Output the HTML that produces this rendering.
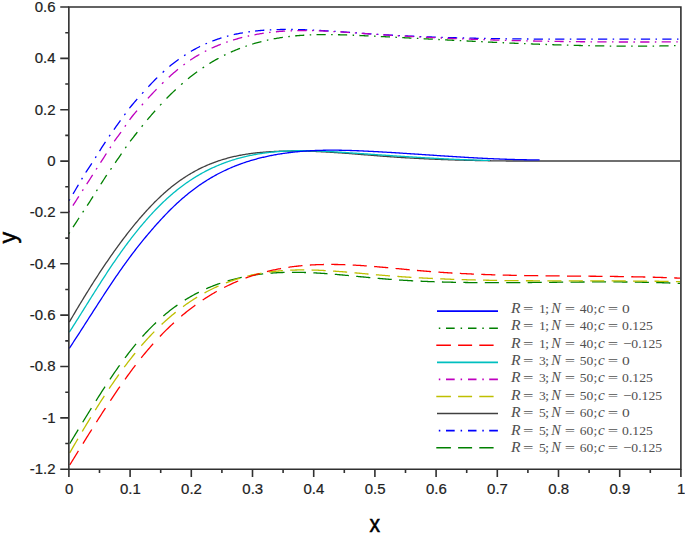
<!DOCTYPE html>
<html><head><meta charset="utf-8"><style>
html,body{margin:0;padding:0;background:#fff;}
body{width:685px;height:534px;overflow:hidden;}
svg{display:block;}
.tk{font-family:"Liberation Sans",sans-serif;font-size:14px;fill:#222;stroke:#222;stroke-width:0.2px;}
.lg{font-family:"Liberation Serif",serif;font-size:13.5px;fill:#505050;}
.it{font-style:italic;}
.ttl{font-family:"Liberation Sans",sans-serif;fill:#000;stroke:#000;stroke-width:0.5px;}
</style></head><body>
<svg width="685" height="534" viewBox="0 0 685 534">
<rect width="685" height="534" fill="#fff"/>
<g>
<g fill="none" stroke-width="1.3" stroke-linecap="butt" stroke-linejoin="round">
<path d="M68.90,200.75 L69.50,199.81 L69.84,199.25 M73.04,193.95 L73.50,193.18 L74.50,191.47 L75.50,189.75 L76.50,188.03 L77.50,186.30 L78.39,184.75 M81.57,179.32 L82.46,177.82 M85.73,172.52 L86.50,171.33 L87.50,169.80 L88.50,168.29 L89.50,166.79 L90.50,165.29 L91.50,163.78 L91.80,163.32 M95.28,157.89 L95.50,157.54 L96.22,156.39 M99.52,151.09 L100.50,149.54 L101.50,147.97 L102.50,146.42 L103.50,144.88 L104.50,143.36 L105.47,141.89 M109.15,136.46 L109.50,135.95 L110.18,134.96 M113.89,129.66 L114.50,128.79 L115.50,127.38 L116.50,125.98 L117.50,124.58 L118.50,123.18 L119.50,121.79 L120.45,120.46 M124.36,115.03 L124.50,114.85 L125.46,113.53 M129.48,108.23 L129.50,108.21 L130.50,106.95 L131.50,105.72 L132.50,104.52 L133.50,103.33 L134.50,102.17 L135.50,101.01 L136.50,99.87 L137.24,99.03 M142.06,93.60 L142.50,93.12 L143.42,92.10 M148.29,86.80 L148.50,86.58 L149.50,85.51 L150.50,84.46 L151.50,83.41 L152.50,82.37 L153.50,81.34 L154.50,80.33 L155.50,79.32 L156.50,78.32 L157.21,77.62 M162.64,72.44 L163.50,71.65 L164.14,71.07 M169.44,66.49 L169.50,66.44 L170.50,65.62 L171.50,64.80 L172.50,64.01 L173.50,63.22 L174.50,62.44 L175.50,61.68 L176.50,60.93 L177.50,60.19 L178.50,59.47 L178.64,59.37 M184.07,55.63 L184.50,55.35 L185.50,54.70 L185.57,54.65 M190.87,51.41 L191.50,51.04 L192.50,50.47 L193.50,49.91 L194.50,49.35 L195.50,48.81 L196.50,48.28 L197.50,47.75 L198.50,47.24 L199.50,46.74 L200.07,46.45 M205.50,43.91 L206.50,43.47 L207.00,43.26 M212.30,41.10 L212.50,41.02 L213.50,40.64 L214.50,40.27 L215.50,39.91 L216.50,39.55 L217.50,39.21 L218.50,38.87 L219.50,38.54 L220.50,38.21 L221.50,37.90 L221.50,37.90 M226.93,36.31 L227.50,36.16 L228.43,35.91 M233.73,34.61 L234.50,34.44 L235.50,34.22 L236.50,34.00 L237.50,33.79 L238.50,33.59 L239.50,33.40 L240.50,33.21 L241.50,33.02 L242.50,32.84 L242.93,32.77 M248.36,31.91 L248.50,31.89 L249.50,31.74 L249.86,31.69 M255.16,31.04 L255.50,31.00 L256.50,30.90 L257.50,30.79 L258.50,30.69 L259.50,30.60 L260.50,30.51 L261.50,30.43 L262.50,30.35 L263.50,30.27 L264.36,30.21 M269.79,29.88 L270.50,29.84 L271.29,29.80 M276.59,29.61 L277.50,29.58 L278.50,29.56 L279.50,29.54 L280.50,29.52 L281.50,29.51 L282.50,29.49 L283.50,29.48 L284.50,29.47 L285.50,29.47 L285.79,29.47 M291.22,29.48 L291.50,29.48 L292.50,29.49 L292.72,29.50 M298.02,29.59 L298.50,29.60 L299.50,29.62 L300.50,29.65 L301.50,29.68 L302.50,29.71 L303.50,29.74 L304.50,29.77 L305.50,29.80 L306.50,29.84 L307.22,29.87 M312.65,30.10 L313.50,30.14 L314.15,30.17 M319.45,30.44 L319.50,30.44 L320.50,30.50 L321.50,30.56 L322.50,30.61 L323.50,30.67 L324.50,30.73 L325.50,30.79 L326.50,30.85 L327.50,30.92 L328.50,30.98 L328.65,30.99 M334.08,31.34 L334.50,31.37 L335.50,31.44 L335.58,31.45 M340.88,31.81 L341.50,31.86 L342.50,31.93 L343.50,32.00 L344.50,32.07 L345.50,32.14 L346.50,32.21 L347.50,32.29 L348.50,32.36 L349.50,32.43 L350.08,32.47 M355.51,32.87 L356.50,32.94 L357.01,32.97 M362.31,33.35 L362.50,33.36 L363.50,33.43 L364.50,33.50 L365.50,33.57 L366.50,33.64 L367.50,33.71 L368.50,33.77 L369.50,33.84 L370.50,33.90 L371.50,33.97 L371.51,33.97 M376.94,34.32 L377.50,34.35 L378.44,34.41 M383.74,34.73 L384.50,34.77 L385.50,34.83 L386.50,34.89 L387.50,34.95 L388.50,35.00 L389.50,35.06 L390.50,35.12 L391.50,35.17 L392.50,35.23 L392.94,35.25 M398.37,35.54 L398.50,35.54 L399.50,35.59 L399.87,35.61 M405.17,35.88 L405.50,35.89 L406.50,35.94 L407.50,35.99 L408.50,36.04 L409.50,36.08 L410.50,36.13 L411.50,36.17 L412.50,36.22 L413.50,36.26 L414.37,36.30 M419.80,36.54 L420.50,36.57 L421.30,36.60 M426.60,36.81 L427.50,36.85 L428.50,36.89 L429.50,36.92 L430.50,36.96 L431.50,37.00 L432.50,37.03 L433.50,37.07 L434.50,37.11 L435.50,37.14 L435.80,37.15 M441.23,37.34 L441.50,37.35 L442.50,37.38 L442.73,37.39 M448.03,37.56 L448.50,37.57 L449.50,37.60 L450.50,37.63 L451.50,37.66 L452.50,37.69 L453.50,37.72 L454.50,37.75 L455.50,37.77 L456.50,37.80 L457.23,37.82 M462.66,37.96 L463.50,37.98 L464.16,38.00 M469.46,38.13 L469.50,38.13 L470.50,38.15 L471.50,38.17 L472.50,38.20 L473.50,38.22 L474.50,38.24 L475.50,38.26 L476.50,38.28 L477.50,38.30 L478.50,38.32 L478.66,38.33 M484.09,38.43 L484.50,38.44 L485.50,38.46 L485.59,38.46 M490.89,38.55 L491.50,38.56 L492.50,38.58 L493.50,38.59 L494.50,38.61 L495.50,38.62 L496.50,38.64 L497.50,38.65 L498.50,38.67 L499.50,38.68 L500.09,38.69 M505.52,38.76 L506.50,38.78 L507.02,38.78 M512.32,38.85 L512.50,38.85 L513.50,38.86 L514.50,38.87 L515.50,38.88 L516.50,38.89 L517.50,38.90 L518.50,38.91 L519.50,38.92 L520.50,38.93 L521.50,38.94 L521.52,38.94 M526.95,38.98 L527.50,38.99 L528.45,38.99 M533.75,39.03 L534.50,39.04 L535.50,39.04 L536.50,39.05 L537.50,39.05 L538.50,39.06 L539.50,39.07 L540.50,39.07 L541.50,39.08 L542.50,39.08 L542.95,39.08 M548.38,39.11 L548.50,39.11 L549.50,39.11 L549.88,39.11 M555.18,39.13 L555.50,39.13 L556.50,39.13 L557.50,39.14 L558.50,39.14 L559.50,39.14 L560.50,39.14 L561.50,39.15 L562.50,39.15 L563.50,39.15 L564.38,39.15 M569.81,39.16 L570.50,39.16 L571.31,39.16 M576.61,39.16 L577.50,39.16 L578.50,39.16 L579.50,39.16 L580.50,39.16 L581.50,39.16 L582.50,39.16 L583.50,39.16 L584.50,39.16 L585.50,39.16 L585.81,39.16 M591.24,39.16 L591.50,39.16 L592.50,39.16 L592.74,39.16 M598.04,39.15 L598.50,39.15 L599.50,39.15 L600.50,39.15 L601.50,39.15 L602.50,39.14 L603.50,39.14 L604.50,39.14 L605.50,39.14 L606.50,39.14 L607.24,39.14 M612.67,39.13 L613.50,39.12 L614.17,39.12 M619.47,39.11 L619.50,39.11 L620.50,39.11 L621.50,39.11 L622.50,39.11 L623.50,39.11 L624.50,39.10 L625.50,39.10 L626.50,39.10 L627.50,39.10 L628.50,39.10 L628.67,39.10 M634.10,39.08 L634.50,39.08 L635.50,39.08 L635.60,39.08 M640.90,39.07 L641.50,39.07 L642.50,39.07 L643.50,39.07 L644.50,39.07 L645.50,39.07 L646.50,39.06 L647.50,39.06 L648.50,39.06 L649.50,39.06 L650.10,39.06 M655.53,39.05 L656.50,39.05 L657.03,39.05 M662.33,39.05 L662.50,39.05 L663.50,39.05 L664.50,39.05 L665.50,39.05 L666.50,39.05 L667.50,39.05 L668.50,39.05 L669.50,39.05 L670.50,39.05 L671.50,39.05 L671.53,39.05 M676.96,39.06 L677.50,39.06 L678.46,39.06" stroke="#0000ff" />
<path d="M68.56,212.36 L69.50,210.90 L69.52,210.86 M72.92,205.56 L73.50,204.66 L74.50,203.11 L75.50,201.55 L76.50,199.99 L77.50,198.44 L78.50,196.88 L78.83,196.36 M82.33,190.93 L82.50,190.67 L83.29,189.43 M86.71,184.13 L87.50,182.91 L88.50,181.35 L89.50,179.80 L90.50,178.25 L91.50,176.70 L92.50,175.14 L92.63,174.93 M96.13,169.50 L96.50,168.93 L97.10,168.00 M100.51,162.70 L101.50,161.16 L102.50,159.61 L103.50,158.05 L104.50,156.49 L105.50,154.93 L106.41,153.50 M109.88,148.07 L110.50,147.09 L110.83,146.57 M114.31,141.27 L114.50,140.99 L115.50,139.59 L116.50,138.22 L117.50,136.88 L118.50,135.55 L119.50,134.22 L120.50,132.86 L121.07,132.07 M124.83,126.64 L125.50,125.65 L125.84,125.14 M129.53,119.84 L130.50,118.54 L131.50,117.24 L132.50,115.98 L133.50,114.76 L134.50,113.56 L135.50,112.38 L136.50,111.22 L137.00,110.64 M141.77,105.21 L142.50,104.39 L143.10,103.71 M147.90,98.41 L148.50,97.76 L149.50,96.67 L150.50,95.60 L151.50,94.53 L152.50,93.47 L153.50,92.41 L154.50,91.37 L155.50,90.33 L156.50,89.29 L156.58,89.21 M161.96,83.80 L162.50,83.27 L163.46,82.34 M168.76,77.34 L169.50,76.66 L170.50,75.75 L171.50,74.86 L172.50,73.97 L173.50,73.10 L174.50,72.23 L175.50,71.38 L176.50,70.54 L177.50,69.71 L177.96,69.33 M183.39,65.05 L183.50,64.97 L184.50,64.22 L184.89,63.93 M190.19,60.20 L190.50,59.99 L191.50,59.32 L192.50,58.67 L193.50,58.03 L194.50,57.40 L195.50,56.78 L196.50,56.17 L197.50,55.57 L198.50,54.98 L199.39,54.47 M204.82,51.50 L205.50,51.15 L206.32,50.73 M211.62,48.18 L212.50,47.78 L213.50,47.33 L214.50,46.89 L215.50,46.46 L216.50,46.04 L217.50,45.62 L218.50,45.21 L219.50,44.81 L220.50,44.42 L220.82,44.30 M226.25,42.30 L226.50,42.21 L227.50,41.86 L227.75,41.78 M233.05,40.06 L233.50,39.92 L234.50,39.62 L235.50,39.33 L236.50,39.03 L237.50,38.75 L238.50,38.47 L239.50,38.20 L240.50,37.93 L241.50,37.67 L242.25,37.48 M247.68,36.18 L248.50,36.00 L249.18,35.85 M254.48,34.77 L254.50,34.77 L255.50,34.58 L256.50,34.40 L257.50,34.22 L258.50,34.05 L259.50,33.88 L260.50,33.72 L261.50,33.56 L262.50,33.41 L263.50,33.26 L263.68,33.23 M269.11,32.51 L269.50,32.46 L270.50,32.34 L270.61,32.33 M275.91,31.78 L276.50,31.73 L277.50,31.64 L278.50,31.55 L279.50,31.47 L280.50,31.39 L281.50,31.32 L282.50,31.25 L283.50,31.18 L284.50,31.12 L285.11,31.09 M290.54,30.82 L291.50,30.78 L292.04,30.76 M297.34,30.62 L297.50,30.61 L298.50,30.60 L299.50,30.58 L300.50,30.57 L301.50,30.56 L302.50,30.56 L303.50,30.55 L304.50,30.55 L305.50,30.56 L306.50,30.56 L306.54,30.56 M311.97,30.63 L312.50,30.64 L313.47,30.66 M318.77,30.81 L319.50,30.83 L320.50,30.87 L321.50,30.91 L322.50,30.94 L323.50,30.99 L324.50,31.03 L325.50,31.07 L326.50,31.12 L327.50,31.16 L327.97,31.19 M333.40,31.47 L333.50,31.48 L334.50,31.53 L334.90,31.56 M340.20,31.88 L340.50,31.90 L341.50,31.96 L342.50,32.03 L343.50,32.09 L344.50,32.16 L345.50,32.22 L346.50,32.29 L347.50,32.36 L348.50,32.43 L349.40,32.49 M354.83,32.87 L355.50,32.92 L356.33,32.98 M361.63,33.36 L362.50,33.42 L363.50,33.49 L364.50,33.56 L365.50,33.63 L366.50,33.70 L367.50,33.77 L368.50,33.84 L369.50,33.91 L370.50,33.98 L370.83,34.00 M376.26,34.37 L376.50,34.38 L377.50,34.45 L377.76,34.47 M383.06,34.81 L383.50,34.84 L384.50,34.90 L385.50,34.97 L386.50,35.03 L387.50,35.09 L388.50,35.16 L389.50,35.22 L390.50,35.28 L391.50,35.34 L392.26,35.39 M397.69,35.71 L398.50,35.76 L399.19,35.80 M404.49,36.11 L404.50,36.11 L405.50,36.17 L406.50,36.22 L407.50,36.28 L408.50,36.34 L409.50,36.39 L410.50,36.45 L411.50,36.50 L412.50,36.56 L413.50,36.61 L413.69,36.62 M419.12,36.91 L419.50,36.93 L420.50,36.98 L420.62,36.99 M425.92,37.26 L426.50,37.29 L427.50,37.34 L428.50,37.39 L429.50,37.44 L430.50,37.48 L431.50,37.53 L432.50,37.58 L433.50,37.63 L434.50,37.68 L435.12,37.71 M440.55,37.96 L441.50,38.00 L442.05,38.03 M447.35,38.26 L447.50,38.27 L448.50,38.31 L449.50,38.36 L450.50,38.40 L451.50,38.44 L452.50,38.48 L453.50,38.53 L454.50,38.57 L455.50,38.61 L456.50,38.65 L456.55,38.65 M461.98,38.87 L462.50,38.89 L463.48,38.93 M468.78,39.13 L469.50,39.16 L470.50,39.20 L471.50,39.23 L472.50,39.27 L473.50,39.31 L474.50,39.34 L475.50,39.38 L476.50,39.41 L477.50,39.45 L477.98,39.47 M483.41,39.65 L483.50,39.66 L484.50,39.69 L484.91,39.70 M490.21,39.87 L490.50,39.88 L491.50,39.91 L492.50,39.95 L493.50,39.98 L494.50,40.01 L495.50,40.04 L496.50,40.07 L497.50,40.10 L498.50,40.13 L499.41,40.15 M504.84,40.31 L505.50,40.33 L506.34,40.35 M511.64,40.49 L512.50,40.51 L513.50,40.54 L514.50,40.56 L515.50,40.59 L516.50,40.61 L517.50,40.64 L518.50,40.66 L519.50,40.69 L520.50,40.71 L520.84,40.72 M526.27,40.85 L526.50,40.85 L527.50,40.87 L527.77,40.88 M533.07,40.99 L533.50,41.00 L534.50,41.02 L535.50,41.04 L536.50,41.06 L537.50,41.08 L538.50,41.10 L539.50,41.12 L540.50,41.14 L541.50,41.16 L542.27,41.17 M547.70,41.27 L548.50,41.29 L549.20,41.30 M554.50,41.39 L555.50,41.40 L556.50,41.42 L557.50,41.43 L558.50,41.45 L559.50,41.46 L560.50,41.48 L561.50,41.49 L562.50,41.51 L563.50,41.52 L563.70,41.52 M569.13,41.60 L569.50,41.60 L570.50,41.61 L570.63,41.61 M575.93,41.68 L576.50,41.68 L577.50,41.69 L578.50,41.71 L579.50,41.72 L580.50,41.73 L581.50,41.74 L582.50,41.75 L583.50,41.76 L584.50,41.77 L585.13,41.77 M590.56,41.82 L591.50,41.83 L592.06,41.83 M597.36,41.87 L597.50,41.87 L598.50,41.88 L599.50,41.89 L600.50,41.89 L601.50,41.90 L602.50,41.91 L603.50,41.91 L604.50,41.92 L605.50,41.92 L606.50,41.93 L606.56,41.93 M611.99,41.95 L612.50,41.96 L613.49,41.96 M618.79,41.98 L619.50,41.98 L620.50,41.98 L621.50,41.99 L622.50,41.99 L623.50,41.99 L624.50,41.99 L625.50,42.00 L626.50,42.00 L627.50,42.00 L627.99,42.00 M633.42,42.00 L633.50,42.00 L634.50,42.01 L634.92,42.01 M640.22,42.00 L640.50,42.00 L641.50,42.00 L642.50,42.00 L643.50,42.00 L644.50,42.00 L645.50,42.00 L646.50,42.00 L647.50,42.00 L648.50,41.99 L649.42,41.99 M654.85,41.98 L655.50,41.98 L656.35,41.97 M661.65,41.95 L662.50,41.95 L663.50,41.95 L664.50,41.94 L665.50,41.94 L666.50,41.93 L667.50,41.93 L668.50,41.92 L669.50,41.92 L670.50,41.91 L670.85,41.91 M676.28,41.88 L676.50,41.88 L677.50,41.87 L677.78,41.87" stroke="#bf00bf" />
<path d="M68.85,233.90 L69.50,232.83 L69.76,232.40 M73.05,227.10 L73.50,226.40 L74.50,224.85 L75.50,223.30 L76.50,221.77 L77.50,220.25 L78.50,218.74 L79.05,217.90 M82.67,212.47 L83.50,211.23 L83.67,210.97 M87.16,205.67 L87.50,205.15 L88.50,203.60 L89.50,202.04 L90.50,200.48 L91.50,198.91 L92.50,197.33 L93.04,196.47 M96.46,191.04 L96.50,190.99 L97.41,189.54 M100.78,184.24 L101.50,183.12 L102.50,181.56 L103.50,180.02 L104.50,178.49 L105.50,176.98 L106.50,175.48 L106.79,175.04 M110.51,169.61 L111.50,168.18 L111.54,168.11 M115.22,162.81 L115.50,162.41 L116.50,160.95 L117.50,159.49 L118.50,158.03 L119.50,156.56 L120.50,155.10 L121.50,153.63 L121.51,153.61 M125.27,148.18 L125.50,147.85 L126.32,146.68 M130.17,141.38 L130.50,140.94 L131.50,139.62 L132.50,138.32 L133.50,137.04 L134.50,135.76 L135.50,134.50 L136.50,133.24 L137.33,132.18 M141.66,126.75 L142.50,125.71 L142.87,125.25 M147.22,119.95 L147.50,119.62 L148.50,118.43 L149.50,117.25 L150.50,116.08 L151.50,114.91 L152.50,113.76 L153.50,112.61 L154.50,111.48 L155.14,110.75 M160.06,105.32 L160.50,104.85 L161.46,103.82 M166.53,98.52 L167.50,97.54 L168.50,96.54 L169.50,95.54 L170.50,94.55 L171.50,93.57 L172.50,92.60 L173.50,91.64 L174.50,90.69 L175.50,89.75 L175.71,89.56 M181.14,84.63 L181.50,84.31 L182.50,83.44 L182.64,83.32 M187.94,78.86 L188.50,78.41 L189.50,77.60 L190.50,76.81 L191.50,76.02 L192.50,75.25 L193.50,74.48 L194.50,73.73 L195.50,72.98 L196.50,72.24 L197.14,71.77 M202.57,67.96 L203.50,67.34 L204.07,66.96 M209.37,63.56 L209.50,63.48 L210.50,62.87 L211.50,62.26 L212.50,61.67 L213.50,61.08 L214.50,60.50 L215.50,59.93 L216.50,59.37 L217.50,58.81 L218.50,58.27 L218.57,58.23 M224.00,55.40 L224.50,55.15 L225.50,54.66 L225.50,54.66 M230.80,52.18 L231.50,51.87 L232.50,51.43 L233.50,50.99 L234.50,50.57 L235.50,50.15 L236.50,49.74 L237.50,49.33 L238.50,48.94 L239.50,48.54 L240.00,48.35 M245.43,46.36 L245.50,46.34 L246.50,45.99 L246.93,45.85 M252.23,44.14 L252.50,44.05 L253.50,43.75 L254.50,43.45 L255.50,43.17 L256.50,42.88 L257.50,42.60 L258.50,42.33 L259.50,42.06 L260.50,41.80 L261.43,41.57 M266.86,40.28 L267.50,40.13 L268.36,39.95 M273.66,38.88 L274.50,38.72 L275.50,38.54 L276.50,38.36 L277.50,38.19 L278.50,38.02 L279.50,37.86 L280.50,37.70 L281.50,37.55 L282.50,37.40 L282.86,37.35 M288.29,36.63 L288.50,36.60 L289.50,36.48 L289.79,36.45 M295.09,35.90 L295.50,35.86 L296.50,35.77 L297.50,35.68 L298.50,35.60 L299.50,35.52 L300.50,35.44 L301.50,35.37 L302.50,35.30 L303.50,35.24 L304.29,35.19 M309.72,34.91 L310.50,34.87 L311.22,34.85 M316.52,34.68 L317.50,34.66 L318.50,34.64 L319.50,34.62 L320.50,34.61 L321.50,34.60 L322.50,34.59 L323.50,34.58 L324.50,34.58 L325.50,34.57 L325.72,34.57 M331.15,34.60 L331.50,34.61 L332.50,34.62 L332.65,34.62 M337.95,34.72 L338.50,34.73 L339.50,34.76 L340.50,34.78 L341.50,34.81 L342.50,34.84 L343.50,34.87 L344.50,34.90 L345.50,34.93 L346.50,34.97 L347.15,34.99 M352.58,35.20 L353.50,35.24 L354.08,35.26 M359.38,35.50 L359.50,35.50 L360.50,35.55 L361.50,35.59 L362.50,35.64 L363.50,35.69 L364.50,35.73 L365.50,35.78 L366.50,35.83 L367.50,35.88 L368.50,35.93 L368.58,35.93 M374.01,36.19 L374.50,36.22 L375.50,36.27 L375.51,36.27 M380.81,36.53 L381.50,36.56 L382.50,36.61 L383.50,36.66 L384.50,36.71 L385.50,36.76 L386.50,36.81 L387.50,36.86 L388.50,36.92 L389.50,36.97 L390.01,36.99 M395.44,37.27 L395.50,37.27 L396.50,37.32 L396.94,37.35 M402.24,37.62 L402.50,37.63 L403.50,37.68 L404.50,37.74 L405.50,37.79 L406.50,37.84 L407.50,37.89 L408.50,37.94 L409.50,38.00 L410.50,38.05 L411.44,38.10 M416.87,38.38 L417.50,38.42 L418.37,38.46 M423.67,38.74 L424.50,38.78 L425.50,38.84 L426.50,38.89 L427.50,38.94 L428.50,38.99 L429.50,39.05 L430.50,39.10 L431.50,39.15 L432.50,39.20 L432.87,39.22 M438.30,39.51 L438.50,39.52 L439.50,39.57 L439.80,39.59 M445.10,39.86 L445.50,39.89 L446.50,39.94 L447.50,39.99 L448.50,40.04 L449.50,40.09 L450.50,40.15 L451.50,40.20 L452.50,40.25 L453.50,40.30 L454.30,40.34 M459.73,40.62 L460.50,40.66 L461.23,40.70 M466.53,40.97 L467.50,41.02 L468.50,41.07 L469.50,41.12 L470.50,41.17 L471.50,41.22 L472.50,41.27 L473.50,41.32 L474.50,41.37 L475.50,41.42 L475.73,41.43 M481.16,41.70 L481.50,41.72 L482.50,41.77 L482.66,41.77 M487.96,42.03 L488.50,42.06 L489.50,42.11 L490.50,42.15 L491.50,42.20 L492.50,42.25 L493.50,42.30 L494.50,42.34 L495.50,42.39 L496.50,42.44 L497.16,42.47 M502.59,42.72 L503.50,42.76 L504.09,42.79 M509.39,43.02 L509.50,43.03 L510.50,43.07 L511.50,43.12 L512.50,43.16 L513.50,43.21 L514.50,43.25 L515.50,43.29 L516.50,43.33 L517.50,43.38 L518.50,43.42 L518.59,43.42 M524.02,43.65 L524.50,43.67 L525.50,43.71 L525.52,43.71 M530.82,43.92 L531.50,43.95 L532.50,43.99 L533.50,44.03 L534.50,44.07 L535.50,44.11 L536.50,44.14 L537.50,44.18 L538.50,44.22 L539.50,44.26 L540.02,44.28 M545.45,44.47 L545.50,44.47 L546.50,44.51 L546.95,44.53 M552.25,44.71 L552.50,44.71 L553.50,44.75 L554.50,44.78 L555.50,44.81 L556.50,44.85 L557.50,44.88 L558.50,44.91 L559.50,44.94 L560.50,44.97 L561.45,45.00 M566.88,45.16 L567.50,45.18 L568.38,45.20 M573.68,45.35 L574.50,45.37 L575.50,45.39 L576.50,45.42 L577.50,45.44 L578.50,45.47 L579.50,45.49 L580.50,45.52 L581.50,45.54 L582.50,45.56 L582.88,45.57 M588.31,45.69 L588.50,45.69 L589.50,45.71 L589.81,45.72 M595.11,45.82 L595.50,45.83 L596.50,45.84 L597.50,45.86 L598.50,45.88 L599.50,45.89 L600.50,45.91 L601.50,45.92 L602.50,45.94 L603.50,45.95 L604.31,45.96 M609.74,46.03 L610.50,46.04 L611.24,46.05 M616.54,46.10 L617.50,46.11 L618.50,46.11 L619.50,46.12 L620.50,46.13 L621.50,46.13 L622.50,46.14 L623.50,46.15 L624.50,46.15 L625.50,46.15 L625.74,46.16 M631.17,46.17 L631.50,46.17 L632.50,46.17 L632.67,46.17 M637.97,46.16 L638.50,46.16 L639.50,46.16 L640.50,46.16 L641.50,46.15 L642.50,46.15 L643.50,46.14 L644.50,46.14 L645.50,46.13 L646.50,46.12 L647.17,46.12 M652.60,46.07 L653.50,46.06 L654.10,46.06 M659.40,45.99 L659.50,45.99 L660.50,45.97 L661.50,45.96 L662.50,45.94 L663.50,45.93 L664.50,45.91 L665.50,45.89 L666.50,45.87 L667.50,45.85 L668.50,45.83 L668.60,45.83 M674.03,45.72 L674.50,45.71 L675.50,45.68 L675.53,45.68" stroke="#008000" />
<path d="M69.72,443.67 L70.60,442.22 L71.60,440.56 L72.60,438.90 L73.60,437.25 L74.60,435.59 L75.60,433.94 L76.60,432.29 L77.60,430.63 L78.24,429.57 M82.70,422.24 L83.60,420.77 L84.60,419.13 L85.60,417.50 L86.60,415.87 L87.60,414.25 L88.60,412.62 L89.60,411.01 L90.60,409.39 L91.38,408.14 M95.96,400.81 L96.60,399.81 L97.60,398.23 L98.60,396.66 L99.60,395.09 L100.60,393.53 L101.60,391.97 L102.60,390.42 L103.60,388.88 L104.60,387.35 L105.02,386.71 M109.87,379.38 L110.60,378.31 L111.60,376.83 L112.60,375.36 L113.60,373.89 L114.60,372.44 L115.60,371.00 L116.60,369.57 L117.60,368.14 L118.60,366.73 L119.60,365.33 L119.63,365.28 M124.99,357.95 L125.60,357.13 L126.60,355.80 L127.60,354.49 L128.60,353.19 L129.60,351.90 L130.60,350.62 L131.60,349.35 L132.60,348.10 L133.60,346.86 L134.60,345.64 L135.60,344.42 L136.08,343.85 M142.41,336.52 L142.60,336.32 L143.60,335.21 L144.60,334.12 L145.60,333.04 L146.60,331.98 L147.60,330.93 L148.60,329.89 L149.60,328.86 L150.60,327.84 L151.60,326.84 L152.60,325.85 L153.60,324.88 L154.60,323.91 L155.60,322.96 L156.02,322.57 M163.35,315.99 L163.60,315.77 L164.60,314.93 L165.60,314.09 L166.60,313.27 L167.60,312.45 L168.60,311.65 L169.60,310.86 L170.60,310.08 L171.60,309.32 L172.60,308.56 L173.60,307.81 L174.60,307.07 L175.60,306.35 L176.60,305.63 L177.45,305.03 M184.78,300.16 L185.60,299.65 L186.60,299.03 L187.60,298.42 L188.60,297.83 L189.60,297.24 L190.60,296.66 L191.60,296.09 L192.60,295.53 L193.60,294.98 L194.60,294.43 L195.60,293.90 L196.60,293.37 L197.60,292.86 L198.60,292.35 L198.88,292.21 M206.21,288.75 L206.60,288.58 L207.60,288.14 L208.60,287.72 L209.60,287.30 L210.60,286.88 L211.60,286.48 L212.60,286.08 L213.60,285.69 L214.60,285.30 L215.60,284.93 L216.60,284.56 L217.60,284.20 L218.60,283.84 L219.60,283.49 L220.31,283.25 M227.64,280.92 L228.60,280.64 L229.60,280.35 L230.60,280.07 L231.60,279.80 L232.60,279.53 L233.60,279.26 L234.60,279.01 L235.60,278.76 L236.60,278.51 L237.60,278.27 L238.60,278.03 L239.60,277.80 L240.60,277.58 L241.60,277.36 L241.74,277.33 M249.07,275.90 L249.60,275.80 L250.60,275.63 L251.60,275.46 L252.60,275.30 L253.60,275.14 L254.60,274.99 L255.60,274.84 L256.60,274.70 L257.60,274.56 L258.60,274.43 L259.60,274.30 L260.60,274.17 L261.60,274.05 L262.60,273.94 L263.17,273.88 M270.50,273.18 L270.60,273.17 L271.60,273.09 L272.60,273.02 L273.60,272.95 L274.60,272.88 L275.60,272.82 L276.60,272.76 L277.60,272.70 L278.60,272.65 L279.60,272.61 L280.60,272.56 L281.60,272.52 L282.60,272.49 L283.60,272.45 L284.60,272.42 M291.93,272.31 L292.60,272.30 L293.60,272.30 L294.60,272.31 L295.60,272.31 L296.60,272.32 L297.60,272.33 L298.60,272.34 L299.60,272.36 L300.60,272.38 L301.60,272.40 L302.60,272.42 L303.60,272.45 L304.60,272.48 L305.60,272.51 L306.03,272.53 M313.36,272.84 L313.60,272.85 L314.60,272.90 L315.60,272.96 L316.60,273.01 L317.60,273.07 L318.60,273.13 L319.60,273.19 L320.60,273.25 L321.60,273.32 L322.60,273.39 L323.60,273.45 L324.60,273.52 L325.60,273.60 L326.60,273.67 L327.46,273.73 M334.79,274.32 L335.60,274.39 L336.60,274.47 L337.60,274.56 L338.60,274.65 L339.60,274.74 L340.60,274.83 L341.60,274.92 L342.60,275.01 L343.60,275.10 L344.60,275.19 L345.60,275.28 L346.60,275.38 L347.60,275.47 L348.60,275.57 L348.89,275.59 M356.22,276.30 L356.60,276.34 L357.60,276.43 L358.60,276.53 L359.60,276.63 L360.60,276.73 L361.60,276.82 L362.60,276.92 L363.60,277.02 L364.60,277.11 L365.60,277.21 L366.60,277.30 L367.60,277.40 L368.60,277.50 L369.60,277.59 L370.32,277.66 M377.65,278.33 L378.60,278.41 L379.60,278.50 L380.60,278.59 L381.60,278.67 L382.60,278.76 L383.60,278.84 L384.60,278.92 L385.60,279.00 L386.60,279.08 L387.60,279.16 L388.60,279.24 L389.60,279.32 L390.60,279.39 L391.60,279.47 L391.75,279.48 M399.08,279.99 L399.60,280.03 L400.60,280.09 L401.60,280.16 L402.60,280.22 L403.60,280.28 L404.60,280.34 L405.60,280.40 L406.60,280.46 L407.60,280.52 L408.60,280.58 L409.60,280.63 L410.60,280.69 L411.60,280.74 L412.60,280.80 L413.18,280.83 M420.51,281.19 L420.60,281.19 L421.60,281.24 L422.60,281.29 L423.60,281.33 L424.60,281.37 L425.60,281.41 L426.60,281.46 L427.60,281.50 L428.60,281.54 L429.60,281.57 L430.60,281.61 L431.60,281.65 L432.60,281.69 L433.60,281.72 L434.60,281.76 L434.61,281.76 M441.94,281.99 L442.60,282.01 L443.60,282.04 L444.60,282.06 L445.60,282.09 L446.60,282.12 L447.60,282.14 L448.60,282.17 L449.60,282.19 L450.60,282.21 L451.60,282.24 L452.60,282.26 L453.60,282.28 L454.60,282.30 L455.60,282.32 L456.04,282.33 M463.37,282.46 L463.60,282.46 L464.60,282.47 L465.60,282.49 L466.60,282.50 L467.60,282.51 L468.60,282.53 L469.60,282.54 L470.60,282.55 L471.60,282.56 L472.60,282.57 L473.60,282.58 L474.60,282.59 L475.60,282.60 L476.60,282.61 L477.47,282.61 M484.80,282.65 L485.60,282.66 L486.60,282.66 L487.60,282.66 L488.60,282.67 L489.60,282.67 L490.60,282.67 L491.60,282.67 L492.60,282.67 L493.60,282.67 L494.60,282.67 L495.60,282.67 L496.60,282.67 L497.60,282.67 L498.60,282.67 L498.90,282.67 M506.23,282.65 L506.60,282.65 L507.60,282.65 L508.60,282.64 L509.60,282.64 L510.60,282.63 L511.60,282.63 L512.60,282.62 L513.60,282.62 L514.60,282.61 L515.60,282.60 L516.60,282.60 L517.60,282.59 L518.60,282.58 L519.60,282.58 L520.33,282.57 M527.66,282.51 L528.60,282.51 L529.60,282.50 L530.60,282.49 L531.60,282.48 L532.60,282.47 L533.60,282.46 L534.60,282.45 L535.60,282.44 L536.60,282.43 L537.60,282.42 L538.60,282.41 L539.60,282.40 L540.60,282.39 L541.60,282.38 L541.76,282.38 M549.09,282.31 L549.60,282.30 L550.60,282.29 L551.60,282.28 L552.60,282.27 L553.60,282.26 L554.60,282.25 L555.60,282.24 L556.60,282.23 L557.60,282.22 L558.60,282.21 L559.60,282.20 L560.60,282.19 L561.60,282.18 L562.60,282.17 L563.19,282.16 M570.52,282.10 L570.60,282.10 L571.60,282.09 L572.60,282.08 L573.60,282.07 L574.60,282.06 L575.60,282.05 L576.60,282.05 L577.60,282.04 L578.60,282.03 L579.60,282.02 L580.60,282.02 L581.60,282.01 L582.60,282.00 L583.60,282.00 L584.60,281.99 L584.62,281.99 M591.95,281.95 L592.60,281.95 L593.60,281.94 L594.60,281.94 L595.60,281.94 L596.60,281.93 L597.60,281.93 L598.60,281.93 L599.60,281.93 L600.60,281.92 L601.60,281.92 L602.60,281.92 L603.60,281.92 L604.60,281.92 L605.60,281.92 L606.05,281.92 M613.38,281.93 L613.60,281.93 L614.60,281.94 L615.60,281.94 L616.60,281.95 L617.60,281.95 L618.60,281.96 L619.60,281.96 L620.60,281.97 L621.60,281.97 L622.60,281.98 L623.60,281.99 L624.60,282.00 L625.60,282.01 L626.60,282.02 L627.48,282.02 M634.81,282.11 L635.60,282.12 L636.60,282.14 L637.60,282.15 L638.60,282.17 L639.60,282.18 L640.60,282.20 L641.60,282.22 L642.60,282.24 L643.60,282.26 L644.60,282.28 L645.60,282.30 L646.60,282.32 L647.60,282.34 L648.60,282.36 L648.91,282.37 M656.24,282.55 L656.60,282.56 L657.60,282.59 L658.60,282.62 L659.60,282.65 L660.60,282.68 L661.60,282.71 L662.60,282.74 L663.60,282.77 L664.60,282.81 L665.60,282.84 L666.60,282.88 L667.60,282.91 L668.60,282.95 L669.60,282.99 L670.34,283.01 M677.67,283.32 L678.60,283.36 L679.60,283.40 L680.00,283.42" stroke="#008000" />
<path d="M69.72,452.89 L70.60,451.35 L71.60,449.62 L72.60,447.89 L73.60,446.17 L74.60,444.45 L75.60,442.73 L76.60,441.02 L77.60,439.32 L77.91,438.79 M82.25,431.46 L82.60,430.87 L83.60,429.19 L84.60,427.53 L85.60,425.86 L86.60,424.21 L87.60,422.55 L88.60,420.91 L89.60,419.27 L90.60,417.64 L90.77,417.36 M95.31,410.03 L95.60,409.57 L96.60,407.98 L97.60,406.39 L98.60,404.81 L99.60,403.24 L100.60,401.68 L101.60,400.12 L102.60,398.57 L103.60,397.03 L104.32,395.93 M109.17,388.60 L109.60,387.96 L110.60,386.48 L111.60,385.00 L112.60,383.54 L113.60,382.08 L114.60,380.63 L115.60,379.19 L116.60,377.77 L117.60,376.35 L118.60,374.94 L118.91,374.50 M124.24,367.17 L124.60,366.69 L125.60,365.35 L126.60,364.02 L127.60,362.70 L128.60,361.39 L129.60,360.09 L130.60,358.81 L131.60,357.53 L132.60,356.27 L133.60,355.02 L134.60,353.78 L135.18,353.07 M141.32,345.74 L141.60,345.41 L142.60,344.26 L143.60,343.12 L144.60,342.00 L145.60,340.88 L146.60,339.78 L147.60,338.68 L148.60,337.60 L149.60,336.53 L150.60,335.46 L151.60,334.41 L152.60,333.37 L153.60,332.35 L154.29,331.64 M161.61,324.48 L162.60,323.56 L163.60,322.63 L164.60,321.72 L165.60,320.81 L166.60,319.92 L167.60,319.03 L168.60,318.16 L169.60,317.29 L170.60,316.44 L171.60,315.59 L172.60,314.76 L173.60,313.93 L174.60,313.12 L175.60,312.31 L175.71,312.22 M183.04,306.60 L183.60,306.20 L184.60,305.47 L185.60,304.76 L186.60,304.05 L187.60,303.36 L188.60,302.67 L189.60,301.99 L190.60,301.33 L191.60,300.67 L192.60,300.01 L193.60,299.37 L194.60,298.74 L195.60,298.11 L196.60,297.49 L197.14,297.16 M204.47,292.93 L204.60,292.86 L205.60,292.31 L206.60,291.78 L207.60,291.25 L208.60,290.73 L209.60,290.22 L210.60,289.72 L211.60,289.22 L212.60,288.73 L213.60,288.25 L214.60,287.78 L215.60,287.31 L216.60,286.86 L217.60,286.41 L218.57,285.98 M225.90,282.95 L226.60,282.68 L227.60,282.30 L228.60,281.93 L229.60,281.56 L230.60,281.20 L231.60,280.85 L232.60,280.51 L233.60,280.17 L234.60,279.84 L235.60,279.51 L236.60,279.19 L237.60,278.88 L238.60,278.57 L239.60,278.27 L240.00,278.16 M247.33,276.17 L247.60,276.10 L248.60,275.85 L249.60,275.61 L250.60,275.38 L251.60,275.15 L252.60,274.93 L253.60,274.71 L254.60,274.50 L255.60,274.30 L256.60,274.10 L257.60,273.90 L258.60,273.71 L259.60,273.53 L260.60,273.35 L261.43,273.21 M268.76,272.08 L269.60,271.97 L270.60,271.84 L271.60,271.72 L272.60,271.60 L273.60,271.48 L274.60,271.37 L275.60,271.27 L276.60,271.17 L277.60,271.07 L278.60,270.98 L279.60,270.89 L280.60,270.80 L281.60,270.72 L282.60,270.65 L282.86,270.63 M290.19,270.20 L290.60,270.18 L291.60,270.14 L292.60,270.11 L293.60,270.07 L294.60,270.04 L295.60,270.02 L296.60,269.99 L297.60,269.97 L298.60,269.96 L299.60,269.94 L300.60,269.93 L301.60,269.93 L302.60,269.92 L303.60,269.92 L304.29,269.92 M311.62,270.02 L312.60,270.05 L313.60,270.08 L314.60,270.11 L315.60,270.14 L316.60,270.17 L317.60,270.21 L318.60,270.25 L319.60,270.29 L320.60,270.34 L321.60,270.38 L322.60,270.43 L323.60,270.48 L324.60,270.53 L325.60,270.59 L325.72,270.60 M333.05,271.05 L333.60,271.09 L334.60,271.16 L335.60,271.23 L336.60,271.30 L337.60,271.38 L338.60,271.45 L339.60,271.53 L340.60,271.61 L341.60,271.69 L342.60,271.77 L343.60,271.85 L344.60,271.93 L345.60,272.01 L346.60,272.10 L347.15,272.14 M354.48,272.79 L354.60,272.80 L355.60,272.89 L356.60,272.98 L357.60,273.07 L358.60,273.16 L359.60,273.25 L360.60,273.34 L361.60,273.43 L362.60,273.53 L363.60,273.62 L364.60,273.71 L365.60,273.80 L366.60,273.89 L367.60,273.98 L368.58,274.07 M375.91,274.73 L376.60,274.79 L377.60,274.88 L378.60,274.96 L379.60,275.05 L380.60,275.13 L381.60,275.22 L382.60,275.30 L383.60,275.38 L384.60,275.47 L385.60,275.55 L386.60,275.63 L387.60,275.71 L388.60,275.78 L389.60,275.86 L390.01,275.89 M397.34,276.43 L397.60,276.45 L398.60,276.52 L399.60,276.59 L400.60,276.66 L401.60,276.73 L402.60,276.80 L403.60,276.86 L404.60,276.93 L405.60,277.00 L406.60,277.06 L407.60,277.12 L408.60,277.19 L409.60,277.25 L410.60,277.31 L411.44,277.36 M418.77,277.79 L419.60,277.83 L420.60,277.89 L421.60,277.94 L422.60,278.00 L423.60,278.05 L424.60,278.10 L425.60,278.15 L426.60,278.20 L427.60,278.25 L428.60,278.30 L429.60,278.35 L430.60,278.40 L431.60,278.45 L432.60,278.49 L432.87,278.51 M440.20,278.83 L440.60,278.85 L441.60,278.89 L442.60,278.93 L443.60,278.97 L444.60,279.01 L445.60,279.05 L446.60,279.09 L447.60,279.13 L448.60,279.17 L449.60,279.20 L450.60,279.24 L451.60,279.28 L452.60,279.31 L453.60,279.35 L454.30,279.37 M461.63,279.61 L462.60,279.64 L463.60,279.67 L464.60,279.70 L465.60,279.72 L466.60,279.75 L467.60,279.78 L468.60,279.81 L469.60,279.84 L470.60,279.86 L471.60,279.89 L472.60,279.91 L473.60,279.94 L474.60,279.96 L475.60,279.99 L475.73,279.99 M483.06,280.15 L483.60,280.17 L484.60,280.19 L485.60,280.21 L486.60,280.23 L487.60,280.25 L488.60,280.26 L489.60,280.28 L490.60,280.30 L491.60,280.32 L492.60,280.34 L493.60,280.35 L494.60,280.37 L495.60,280.39 L496.60,280.40 L497.16,280.41 M504.49,280.51 L504.60,280.52 L505.60,280.53 L506.60,280.54 L507.60,280.55 L508.60,280.57 L509.60,280.58 L510.60,280.59 L511.60,280.60 L512.60,280.61 L513.60,280.62 L514.60,280.63 L515.60,280.64 L516.60,280.65 L517.60,280.66 L518.59,280.67 M525.92,280.73 L526.60,280.73 L527.60,280.74 L528.60,280.75 L529.60,280.75 L530.60,280.76 L531.60,280.77 L532.60,280.77 L533.60,280.78 L534.60,280.78 L535.60,280.79 L536.60,280.79 L537.60,280.80 L538.60,280.80 L539.60,280.81 L540.02,280.81 M547.35,280.84 L547.60,280.84 L548.60,280.84 L549.60,280.84 L550.60,280.85 L551.60,280.85 L552.60,280.85 L553.60,280.85 L554.60,280.86 L555.60,280.86 L556.60,280.86 L557.60,280.86 L558.60,280.86 L559.60,280.87 L560.60,280.87 L561.45,280.87 M568.78,280.88 L569.60,280.88 L570.60,280.88 L571.60,280.88 L572.60,280.88 L573.60,280.89 L574.60,280.89 L575.60,280.89 L576.60,280.89 L577.60,280.89 L578.60,280.89 L579.60,280.89 L580.60,280.89 L581.60,280.89 L582.60,280.89 L582.88,280.89 M590.21,280.90 L590.60,280.90 L591.60,280.90 L592.60,280.90 L593.60,280.90 L594.60,280.90 L595.60,280.91 L596.60,280.91 L597.60,280.91 L598.60,280.91 L599.60,280.91 L600.60,280.91 L601.60,280.91 L602.60,280.92 L603.60,280.92 L604.31,280.92 M611.64,280.94 L612.60,280.94 L613.60,280.94 L614.60,280.94 L615.60,280.95 L616.60,280.95 L617.60,280.95 L618.60,280.96 L619.60,280.96 L620.60,280.97 L621.60,280.97 L622.60,280.97 L623.60,280.98 L624.60,280.98 L625.60,280.99 L625.74,280.99 M633.07,281.03 L633.60,281.03 L634.60,281.04 L635.60,281.05 L636.60,281.05 L637.60,281.06 L638.60,281.07 L639.60,281.08 L640.60,281.08 L641.60,281.09 L642.60,281.10 L643.60,281.11 L644.60,281.12 L645.60,281.13 L646.60,281.14 L647.17,281.14 M654.50,281.22 L654.60,281.22 L655.60,281.24 L656.60,281.25 L657.60,281.26 L658.60,281.27 L659.60,281.29 L660.60,281.30 L661.60,281.31 L662.60,281.33 L663.60,281.34 L664.60,281.36 L665.60,281.37 L666.60,281.39 L667.60,281.41 L668.60,281.42 L668.60,281.42 M675.93,281.55 L676.60,281.57 L677.60,281.59 L678.60,281.61 L679.60,281.63 L680.00,281.64" stroke="#bfbf00" />
<path d="M69.72,465.01 L70.60,463.59 L71.60,461.97 L72.60,460.34 L73.60,458.72 L74.60,457.10 L75.60,455.47 L76.60,453.85 L77.60,452.23 L78.41,450.91 M82.95,443.58 L83.60,442.54 L84.60,440.93 L85.60,439.32 L86.60,437.71 L87.60,436.11 L88.60,434.51 L89.60,432.91 L90.60,431.32 L91.60,429.73 L91.75,429.48 M96.39,422.15 L96.60,421.82 L97.60,420.25 L98.60,418.68 L99.60,417.12 L100.60,415.57 L101.60,414.01 L102.60,412.46 L103.60,410.92 L104.60,409.38 L105.47,408.05 M110.30,400.72 L110.60,400.27 L111.60,398.77 L112.60,397.28 L113.60,395.79 L114.60,394.32 L115.60,392.84 L116.60,391.38 L117.60,389.92 L118.60,388.47 L119.60,387.02 L119.88,386.62 M125.04,379.29 L125.60,378.52 L126.60,377.13 L127.60,375.75 L128.60,374.38 L129.60,373.01 L130.60,371.66 L131.60,370.32 L132.60,368.98 L133.60,367.65 L134.60,366.34 L135.47,365.19 M141.23,357.86 L141.60,357.40 L142.60,356.17 L143.60,354.94 L144.60,353.73 L145.60,352.53 L146.60,351.33 L147.60,350.15 L148.60,348.98 L149.60,347.82 L150.60,346.67 L151.60,345.53 L152.60,344.40 L153.17,343.76 M159.93,336.43 L160.60,335.74 L161.60,334.70 L162.60,333.67 L163.60,332.65 L164.60,331.64 L165.60,330.64 L166.60,329.65 L167.60,328.67 L168.60,327.70 L169.60,326.74 L170.60,325.79 L171.60,324.85 L172.60,323.92 L173.60,322.99 L173.91,322.71 M181.24,316.25 L181.60,315.94 L182.60,315.10 L183.60,314.27 L184.60,313.44 L185.60,312.63 L186.60,311.82 L187.60,311.03 L188.60,310.24 L189.60,309.46 L190.60,308.69 L191.60,307.92 L192.60,307.17 L193.60,306.42 L194.60,305.69 L195.34,305.15 M202.67,300.04 L203.60,299.42 L204.60,298.76 L205.60,298.12 L206.60,297.47 L207.60,296.84 L208.60,296.22 L209.60,295.60 L210.60,294.99 L211.60,294.39 L212.60,293.79 L213.60,293.21 L214.60,292.63 L215.60,292.05 L216.60,291.49 L216.77,291.40 M224.10,287.48 L224.60,287.23 L225.60,286.73 L226.60,286.23 L227.60,285.75 L228.60,285.27 L229.60,284.79 L230.60,284.33 L231.60,283.86 L232.60,283.41 L233.60,282.96 L234.60,282.52 L235.60,282.09 L236.60,281.66 L237.60,281.24 L238.20,280.99 M245.53,278.12 L245.60,278.09 L246.60,277.73 L247.60,277.37 L248.60,277.01 L249.60,276.67 L250.60,276.32 L251.60,275.99 L252.60,275.66 L253.60,275.33 L254.60,275.01 L255.60,274.70 L256.60,274.39 L257.60,274.09 L258.60,273.79 L259.60,273.50 L259.63,273.49 M266.96,271.52 L267.60,271.36 L268.60,271.12 L269.60,270.88 L270.60,270.65 L271.60,270.42 L272.60,270.19 L273.60,269.98 L274.60,269.76 L275.60,269.55 L276.60,269.35 L277.60,269.15 L278.60,268.96 L279.60,268.77 L280.60,268.58 L281.06,268.50 M288.39,267.30 L288.60,267.27 L289.60,267.12 L290.60,266.98 L291.60,266.85 L292.60,266.72 L293.60,266.59 L294.60,266.46 L295.60,266.35 L296.60,266.23 L297.60,266.12 L298.60,266.01 L299.60,265.91 L300.60,265.81 L301.60,265.71 L302.49,265.63 M309.82,265.07 L310.60,265.02 L311.60,264.96 L312.60,264.91 L313.60,264.86 L314.60,264.81 L315.60,264.76 L316.60,264.72 L317.60,264.68 L318.60,264.64 L319.60,264.61 L320.60,264.58 L321.60,264.56 L322.60,264.53 L323.60,264.51 L323.92,264.51 M331.25,264.45 L331.60,264.45 L332.60,264.46 L333.60,264.47 L334.60,264.48 L335.60,264.49 L336.60,264.51 L337.60,264.52 L338.60,264.54 L339.60,264.57 L340.60,264.59 L341.60,264.62 L342.60,264.65 L343.60,264.68 L344.60,264.71 L345.35,264.74 M352.68,265.06 L353.60,265.11 L354.60,265.16 L355.60,265.22 L356.60,265.28 L357.60,265.34 L358.60,265.40 L359.60,265.46 L360.60,265.52 L361.60,265.59 L362.60,265.65 L363.60,265.72 L364.60,265.79 L365.60,265.86 L366.60,265.94 L366.78,265.95 M374.11,266.52 L374.60,266.56 L375.60,266.64 L376.60,266.72 L377.60,266.81 L378.60,266.89 L379.60,266.98 L380.60,267.07 L381.60,267.15 L382.60,267.24 L383.60,267.33 L384.60,267.42 L385.60,267.51 L386.60,267.60 L387.60,267.69 L388.21,267.75 M395.54,268.43 L395.60,268.44 L396.60,268.53 L397.60,268.63 L398.60,268.72 L399.60,268.82 L400.60,268.91 L401.60,269.01 L402.60,269.10 L403.60,269.19 L404.60,269.29 L405.60,269.38 L406.60,269.48 L407.60,269.57 L408.60,269.66 L409.60,269.76 L409.64,269.76 M416.97,270.43 L417.60,270.48 L418.60,270.57 L419.60,270.66 L420.60,270.74 L421.60,270.83 L422.60,270.92 L423.60,271.00 L424.60,271.08 L425.60,271.16 L426.60,271.25 L427.60,271.33 L428.60,271.41 L429.60,271.48 L430.60,271.56 L431.07,271.60 M438.40,272.13 L438.60,272.15 L439.60,272.22 L440.60,272.28 L441.60,272.35 L442.60,272.42 L443.60,272.48 L444.60,272.55 L445.60,272.61 L446.60,272.68 L447.60,272.74 L448.60,272.80 L449.60,272.86 L450.60,272.92 L451.60,272.98 L452.50,273.03 M459.83,273.43 L460.60,273.47 L461.60,273.53 L462.60,273.58 L463.60,273.63 L464.60,273.68 L465.60,273.72 L466.60,273.77 L467.60,273.82 L468.60,273.86 L469.60,273.91 L470.60,273.95 L471.60,274.00 L472.60,274.04 L473.60,274.08 L473.93,274.10 M481.26,274.39 L481.60,274.40 L482.60,274.44 L483.60,274.48 L484.60,274.51 L485.60,274.55 L486.60,274.58 L487.60,274.62 L488.60,274.65 L489.60,274.68 L490.60,274.72 L491.60,274.75 L492.60,274.78 L493.60,274.81 L494.60,274.84 L495.36,274.86 M502.69,275.06 L503.60,275.09 L504.60,275.11 L505.60,275.14 L506.60,275.16 L507.60,275.19 L508.60,275.21 L509.60,275.23 L510.60,275.25 L511.60,275.28 L512.60,275.30 L513.60,275.32 L514.60,275.34 L515.60,275.36 L516.60,275.38 L516.79,275.38 M524.12,275.52 L524.60,275.53 L525.60,275.54 L526.60,275.56 L527.60,275.58 L528.60,275.59 L529.60,275.61 L530.60,275.62 L531.60,275.64 L532.60,275.65 L533.60,275.67 L534.60,275.68 L535.60,275.70 L536.60,275.71 L537.60,275.72 L538.22,275.73 M545.55,275.82 L545.60,275.82 L546.60,275.83 L547.60,275.84 L548.60,275.85 L549.60,275.86 L550.60,275.88 L551.60,275.89 L552.60,275.90 L553.60,275.91 L554.60,275.92 L555.60,275.93 L556.60,275.94 L557.60,275.94 L558.60,275.95 L559.60,275.96 L559.65,275.96 M566.98,276.03 L567.60,276.03 L568.60,276.04 L569.60,276.05 L570.60,276.06 L571.60,276.07 L572.60,276.08 L573.60,276.08 L574.60,276.09 L575.60,276.10 L576.60,276.11 L577.60,276.12 L578.60,276.13 L579.60,276.13 L580.60,276.14 L581.08,276.15 M588.41,276.21 L588.60,276.21 L589.60,276.22 L590.60,276.23 L591.60,276.24 L592.60,276.25 L593.60,276.26 L594.60,276.27 L595.60,276.27 L596.60,276.28 L597.60,276.29 L598.60,276.30 L599.60,276.31 L600.60,276.32 L601.60,276.33 L602.51,276.34 M609.84,276.43 L610.60,276.43 L611.60,276.45 L612.60,276.46 L613.60,276.47 L614.60,276.48 L615.60,276.50 L616.60,276.51 L617.60,276.52 L618.60,276.54 L619.60,276.55 L620.60,276.57 L621.60,276.58 L622.60,276.60 L623.60,276.61 L623.94,276.62 M631.27,276.74 L631.60,276.75 L632.60,276.76 L633.60,276.78 L634.60,276.80 L635.60,276.82 L636.60,276.84 L637.60,276.86 L638.60,276.88 L639.60,276.90 L640.60,276.92 L641.60,276.95 L642.60,276.97 L643.60,276.99 L644.60,277.01 L645.37,277.03 M652.70,277.22 L653.60,277.24 L654.60,277.27 L655.60,277.30 L656.60,277.33 L657.60,277.36 L658.60,277.39 L659.60,277.42 L660.60,277.45 L661.60,277.48 L662.60,277.51 L663.60,277.54 L664.60,277.58 L665.60,277.61 L666.60,277.64 L666.80,277.65 M674.13,277.92 L674.60,277.94 L675.60,277.98 L676.60,278.02 L677.60,278.06 L678.60,278.10 L679.60,278.14 L680.00,278.16" stroke="#ff0000" />
<path d="M69.30,322.12 L70.30,320.40 L71.30,318.69 L72.30,316.98 L73.30,315.28 L74.30,313.58 L75.30,311.89 L76.30,310.20 L77.30,308.52 L78.30,306.85 L79.30,305.18 L80.30,303.52 L81.30,301.87 L82.30,300.22 L83.30,298.58 L84.30,296.94 L85.30,295.31 L86.30,293.69 L87.30,292.07 L88.30,290.47 L89.30,288.86 L90.30,287.27 L91.30,285.68 L92.30,284.10 L93.30,282.52 L94.30,280.96 L95.30,279.40 L96.30,277.85 L97.30,276.30 L98.30,274.76 L99.30,273.23 L100.30,271.71 L101.30,270.20 L102.30,268.69 L103.30,267.19 L104.30,265.70 L105.30,264.21 L106.30,262.74 L107.30,261.27 L108.30,259.81 L109.30,258.36 L110.30,256.92 L111.30,255.48 L112.30,254.05 L113.30,252.64 L114.30,251.23 L115.30,249.82 L116.30,248.43 L117.30,247.05 L118.30,245.67 L119.30,244.31 L120.30,242.95 L121.30,241.60 L122.30,240.26 L123.30,238.93 L124.30,237.61 L125.30,236.30 L126.30,235.00 L127.30,233.70 L128.30,232.42 L129.30,231.15 L130.30,229.88 L131.30,228.63 L132.30,227.38 L133.30,226.15 L134.30,224.92 L135.30,223.71 L136.30,222.50 L137.30,221.30 L138.30,220.12 L139.30,218.94 L140.30,217.78 L141.30,216.62 L142.30,215.48 L143.30,214.35 L144.30,213.22 L145.30,212.11 L146.30,211.01 L147.30,209.92 L148.30,208.84 L149.30,207.77 L150.30,206.71 L151.30,205.66 L152.30,204.62 L153.30,203.60 L154.30,202.58 L155.30,201.58 L156.30,200.59 L157.30,199.61 L158.30,198.64 L159.30,197.68 L160.30,196.73 L161.30,195.80 L162.30,194.88 L163.30,193.97 L164.30,193.07 L165.30,192.18 L166.30,191.31 L167.30,190.44 L168.30,189.59 L169.30,188.75 L170.30,187.93 L171.30,187.11 L172.30,186.31 L173.30,185.52 L174.30,184.74 L175.30,183.98 L176.30,183.22 L177.30,182.48 L178.30,181.75 L179.30,181.03 L180.30,180.32 L181.30,179.63 L182.30,178.94 L183.30,178.27 L184.30,177.60 L185.30,176.95 L186.30,176.31 L187.30,175.68 L188.30,175.06 L189.30,174.45 L190.30,173.85 L191.30,173.27 L192.30,172.69 L193.30,172.12 L194.30,171.56 L195.30,171.01 L196.30,170.48 L197.30,169.95 L198.30,169.43 L199.30,168.92 L200.30,168.42 L201.30,167.94 L202.30,167.46 L203.30,166.99 L204.30,166.52 L205.30,166.07 L206.30,165.63 L207.30,165.19 L208.30,164.77 L209.30,164.35 L210.30,163.94 L211.30,163.54 L212.30,163.15 L213.30,162.77 L214.30,162.40 L215.30,162.03 L216.30,161.67 L217.30,161.32 L218.30,160.98 L219.30,160.64 L220.30,160.32 L221.30,160.00 L222.30,159.68 L223.30,159.38 L224.30,159.08 L225.30,158.79 L226.30,158.51 L227.30,158.23 L228.30,157.96 L229.30,157.70 L230.30,157.45 L231.30,157.20 L232.30,156.96 L233.30,156.72 L234.30,156.49 L235.30,156.27 L236.30,156.05 L237.30,155.84 L238.30,155.64 L239.30,155.44 L240.30,155.24 L241.30,155.06 L242.30,154.88 L243.30,154.70 L244.30,154.53 L245.30,154.36 L246.30,154.20 L247.30,154.05 L248.30,153.90 L249.30,153.75 L250.30,153.61 L251.30,153.48 L252.30,153.35 L253.30,153.22 L254.30,153.10 L255.30,152.98 L256.30,152.87 L257.30,152.76 L258.30,152.66 L259.30,152.56 L260.30,152.46 L261.30,152.37 L262.30,152.28 L263.30,152.20 L264.30,152.11 L265.30,152.04 L266.30,151.96 L267.30,151.89 L268.30,151.82 L269.30,151.76 L270.30,151.70 L271.30,151.64 L272.30,151.58 L273.30,151.53 L274.30,151.48 L275.30,151.43 L276.30,151.38 L277.30,151.34 L278.30,151.30 L279.30,151.26 L280.30,151.23 L281.30,151.20 L282.30,151.17 L283.30,151.14 L284.30,151.12 L285.30,151.10 L286.30,151.08 L287.30,151.06 L288.30,151.05 L289.30,151.04 L290.30,151.03 L291.30,151.02 L292.30,151.02 L293.30,151.02 L294.30,151.01 L295.30,151.02 L296.30,151.02 L297.30,151.03 L298.30,151.04 L299.30,151.05 L300.30,151.06 L301.30,151.07 L302.30,151.09 L303.30,151.11 L304.30,151.13 L305.30,151.15 L306.30,151.18 L307.30,151.20 L308.30,151.23 L309.30,151.26 L310.30,151.29 L311.30,151.32 L312.30,151.36 L313.30,151.40 L314.30,151.43 L315.30,151.47 L316.30,151.51 L317.30,151.56 L318.30,151.60 L319.30,151.65 L320.30,151.69 L321.30,151.74 L322.30,151.79 L323.30,151.84 L324.30,151.90 L325.30,151.95 L326.30,152.01 L327.30,152.06 L328.30,152.12 L329.30,152.18 L330.30,152.24 L331.30,152.30 L332.30,152.36 L333.30,152.42 L334.30,152.49 L335.30,152.55 L336.30,152.62 L337.30,152.69 L338.30,152.75 L339.30,152.82 L340.30,152.89 L341.30,152.96 L342.30,153.03 L343.30,153.10 L344.30,153.18 L345.30,153.25 L346.30,153.32 L347.30,153.40 L348.30,153.47 L349.30,153.55 L350.30,153.62 L351.30,153.70 L352.30,153.78 L353.30,153.86 L354.30,153.93 L355.30,154.01 L356.30,154.09 L357.30,154.17 L358.30,154.25 L359.30,154.33 L360.30,154.41 L361.30,154.49 L362.30,154.57 L363.30,154.65 L364.30,154.73 L365.30,154.81 L366.30,154.89 L367.30,154.97 L368.30,155.05 L369.30,155.13 L370.30,155.21 L371.30,155.29 L372.30,155.37 L373.30,155.45 L374.30,155.53 L375.30,155.61 L376.30,155.68 L377.30,155.76 L378.30,155.84 L379.30,155.92 L380.30,156.00 L381.30,156.07 L382.30,156.15 L383.30,156.23 L384.30,156.30 L385.30,156.38 L386.30,156.45 L387.30,156.53 L388.30,156.60 L389.30,156.67 L390.30,156.74 L391.30,156.82 L392.30,156.89 L393.30,156.96 L394.30,157.02 L395.30,157.09 L396.30,157.16 L397.30,157.23 L398.30,157.29 L399.30,157.36 L400.30,157.42 L401.30,157.49 L402.30,157.55 L403.30,157.61 L404.30,157.67 L405.30,157.73 L406.30,157.80 L407.30,157.85 L408.30,157.91 L409.30,157.97 L410.30,158.03 L411.30,158.09 L412.30,158.14 L413.30,158.20 L414.30,158.25 L415.30,158.31 L416.30,158.36 L417.30,158.41 L418.30,158.47 L419.30,158.52 L420.30,158.57 L421.30,158.62 L422.30,158.67 L423.30,158.72 L424.30,158.77 L425.30,158.81 L426.30,158.86 L427.30,158.91 L428.30,158.95 L429.30,159.00 L430.30,159.05 L431.30,159.09 L432.30,159.13 L433.30,159.18 L434.30,159.22 L435.30,159.26 L436.30,159.30 L437.30,159.34 L438.30,159.38 L439.30,159.42 L440.30,159.46 L441.30,159.50 L442.30,159.54 L443.30,159.57 L444.30,159.61 L445.30,159.65 L446.30,159.68 L447.30,159.72 L448.30,159.75 L449.30,159.79 L450.30,159.82 L451.30,159.85 L452.30,159.88 L453.30,159.92 L454.30,159.95 L455.30,159.98 L456.30,160.01 L457.30,160.04 L458.30,160.07 L459.30,160.10 L460.30,160.13 L461.30,160.15 L462.30,160.18 L463.30,160.21 L464.30,160.23 L465.30,160.26 L466.30,160.28 L467.30,160.31 L468.30,160.33 L469.30,160.36 L470.30,160.38 L471.30,160.41 L472.30,160.43 L473.30,160.45 L474.30,160.47 L475.30,160.49 L476.30,160.51 L477.30,160.53 L478.30,160.55 L479.30,160.57 L480.30,160.59 L481.30,160.61 L482.30,160.63 L483.30,160.65 L484.30,160.67 L485.30,160.68 L486.30,160.70 L487.30,160.72 L488.30,160.73 L489.30,160.75 L490.30,160.77 L491.30,160.79 L492.30,160.81 L493.30,160.83 L494.30,160.85 L495.30,160.86 L496.30,160.88 L497.30,160.89 L498.30,160.91 L499.30,160.92 L500.30,160.93 L501.30,160.94 L502.30,160.95 L503.30,160.96 L504.30,160.97 L505.30,160.97 L506.30,160.98 L507.30,160.99 L508.30,160.99 L509.30,160.99 L510.30,161.00 L511.30,161.00 L512.30,161.00 L513.30,161.00 L514.30,161.00 L515.30,161.00 L516.30,161.00 L517.30,161.00 L518.30,161.00 L519.30,161.00 L520.30,161.00 L521.30,161.00 L522.30,161.00 L523.30,161.00 L524.30,161.00 L525.30,161.00 L526.30,161.00 L527.30,161.00 L528.30,161.00 L529.30,161.00 L530.30,161.00 L531.30,161.00 L532.30,161.00 L533.30,161.00 L534.30,161.00 L535.30,161.00 L536.30,161.00 L537.30,161.00 L538.30,161.00 L539.30,161.00 L540.30,161.00 L541.30,161.00 L542.30,161.00 L543.30,161.00 L544.30,161.00 L545.30,161.00 L546.30,161.00 L547.30,161.00 L548.30,161.00 L549.30,161.00 L550.30,161.00 L551.30,161.00 L552.30,161.00 L553.30,161.00 L554.30,161.00 L555.30,161.00 L556.30,161.00 L557.30,161.00 L558.30,161.00 L559.30,161.00 L560.30,161.00 L561.30,161.00 L562.30,161.00 L563.30,161.00 L564.30,161.00 L565.30,161.00 L566.30,161.00 L567.30,161.00 L568.30,161.00 L569.30,161.00 L570.30,161.00 L571.30,161.00 L572.30,161.00 L573.30,161.00 L574.30,161.00 L575.30,161.00 L576.30,161.00 L577.30,161.00 L578.30,161.00 L579.30,161.00 L580.30,161.00 L581.30,161.00 L582.30,161.00 L583.30,161.00 L584.30,161.00 L585.30,161.00 L586.30,161.00 L587.30,161.00 L588.30,161.00 L589.30,161.00 L590.30,161.00 L591.30,161.00 L592.30,161.00 L593.30,161.00 L594.30,161.00 L595.30,161.00 L596.30,161.00 L597.30,161.00 L598.30,161.00 L599.30,161.00 L600.30,161.00 L601.30,161.00 L602.30,161.00 L603.30,161.00 L604.30,161.00 L605.30,161.00 L606.30,161.00 L607.30,161.00 L608.30,161.00 L609.30,161.00 L610.30,161.00 L611.30,161.00 L612.30,161.00 L613.30,161.00 L614.30,161.00 L615.30,161.00 L616.30,161.00 L617.30,161.00 L618.30,161.00 L619.30,161.00 L620.30,161.00 L621.30,161.00 L622.30,161.00 L623.30,161.00 L624.30,161.00 L625.30,161.00 L626.30,161.00 L627.30,161.00 L628.30,161.00 L629.30,161.00 L630.30,161.00 L631.30,161.00 L632.30,161.00 L633.30,161.00 L634.30,161.00 L635.30,161.00 L636.30,161.00 L637.30,161.00 L638.30,161.00 L639.30,161.00 L640.30,161.00 L641.30,161.00 L642.30,161.00 L643.30,161.00 L644.30,161.00 L645.30,161.00 L646.30,161.00 L647.30,161.00 L648.30,161.00 L649.30,161.00 L650.30,161.00 L651.30,161.00 L652.30,161.00 L653.30,161.00 L654.30,161.00 L655.30,161.00 L656.30,161.00 L657.30,161.00 L658.30,161.00 L659.30,161.00 L660.30,161.00 L661.30,161.00 L662.30,161.00 L663.30,161.00 L664.30,161.00 L665.30,161.00 L666.30,161.00 L667.30,161.00 L668.30,161.00 L669.30,161.00 L670.30,161.00 L671.30,161.00 L672.30,161.00 L673.30,161.00 L674.30,161.00 L675.30,161.00 L676.30,161.00 L677.30,161.00 L678.30,161.00 L679.30,161.00 L680.00,161.00" stroke="#404040" />
<path d="M69.30,332.26 L70.30,330.69 L71.30,329.12 L72.30,327.55 L73.30,325.97 L74.30,324.39 L75.30,322.80 L76.30,321.22 L77.30,319.62 L78.30,318.03 L79.30,316.44 L80.30,314.84 L81.30,313.24 L82.30,311.64 L83.30,310.04 L84.30,308.44 L85.30,306.84 L86.30,305.24 L87.30,303.64 L88.30,302.05 L89.30,300.45 L90.30,298.85 L91.30,297.26 L92.30,295.67 L93.30,294.08 L94.30,292.49 L95.30,290.90 L96.30,289.32 L97.30,287.74 L98.30,286.17 L99.30,284.60 L100.30,283.03 L101.30,281.47 L102.30,279.92 L103.30,278.37 L104.30,276.82 L105.30,275.29 L106.30,273.75 L107.30,272.23 L108.30,270.71 L109.30,269.20 L110.30,267.69 L111.30,266.20 L112.30,264.71 L113.30,263.23 L114.30,261.76 L115.30,260.29 L116.30,258.84 L117.30,257.40 L118.30,255.96 L119.30,254.54 L120.30,253.13 L121.30,251.72 L122.30,250.33 L123.30,248.94 L124.30,247.57 L125.30,246.20 L126.30,244.85 L127.30,243.50 L128.30,242.17 L129.30,240.84 L130.30,239.53 L131.30,238.22 L132.30,236.93 L133.30,235.65 L134.30,234.37 L135.30,233.11 L136.30,231.86 L137.30,230.61 L138.30,229.38 L139.30,228.16 L140.30,226.95 L141.30,225.75 L142.30,224.56 L143.30,223.38 L144.30,222.21 L145.30,221.05 L146.30,219.90 L147.30,218.77 L148.30,217.64 L149.30,216.53 L150.30,215.42 L151.30,214.33 L152.30,213.25 L153.30,212.17 L154.30,211.11 L155.30,210.06 L156.30,209.02 L157.30,208.00 L158.30,206.98 L159.30,205.98 L160.30,204.98 L161.30,204.00 L162.30,203.03 L163.30,202.07 L164.30,201.12 L165.30,200.18 L166.30,199.26 L167.30,198.34 L168.30,197.44 L169.30,196.55 L170.30,195.67 L171.30,194.80 L172.30,193.94 L173.30,193.09 L174.30,192.26 L175.30,191.43 L176.30,190.62 L177.30,189.81 L178.30,189.02 L179.30,188.24 L180.30,187.47 L181.30,186.71 L182.30,185.96 L183.30,185.22 L184.30,184.49 L185.30,183.77 L186.30,183.06 L187.30,182.36 L188.30,181.68 L189.30,181.00 L190.30,180.33 L191.30,179.67 L192.30,179.02 L193.30,178.38 L194.30,177.75 L195.30,177.13 L196.30,176.52 L197.30,175.92 L198.30,175.32 L199.30,174.74 L200.30,174.17 L201.30,173.60 L202.30,173.04 L203.30,172.50 L204.30,171.96 L205.30,171.43 L206.30,170.91 L207.30,170.40 L208.30,169.89 L209.30,169.40 L210.30,168.91 L211.30,168.43 L212.30,167.96 L213.30,167.50 L214.30,167.05 L215.30,166.60 L216.30,166.16 L217.30,165.73 L218.30,165.31 L219.30,164.89 L220.30,164.49 L221.30,164.09 L222.30,163.70 L223.30,163.31 L224.30,162.93 L225.30,162.57 L226.30,162.20 L227.30,161.85 L228.30,161.50 L229.30,161.16 L230.30,160.82 L231.30,160.50 L232.30,160.18 L233.30,159.86 L234.30,159.55 L235.30,159.25 L236.30,158.96 L237.30,158.67 L238.30,158.39 L239.30,158.12 L240.30,157.85 L241.30,157.58 L242.30,157.33 L243.30,157.08 L244.30,156.83 L245.30,156.59 L246.30,156.36 L247.30,156.13 L248.30,155.91 L249.30,155.69 L250.30,155.48 L251.30,155.28 L252.30,155.08 L253.30,154.88 L254.30,154.69 L255.30,154.51 L256.30,154.33 L257.30,154.15 L258.30,153.98 L259.30,153.82 L260.30,153.66 L261.30,153.50 L262.30,153.35 L263.30,153.21 L264.30,153.07 L265.30,152.93 L266.30,152.80 L267.30,152.68 L268.30,152.55 L269.30,152.44 L270.30,152.32 L271.30,152.21 L272.30,152.11 L273.30,152.01 L274.30,151.91 L275.30,151.82 L276.30,151.73 L277.30,151.65 L278.30,151.57 L279.30,151.49 L280.30,151.42 L281.30,151.35 L282.30,151.29 L283.30,151.23 L284.30,151.17 L285.30,151.12 L286.30,151.07 L287.30,151.02 L288.30,150.98 L289.30,150.94 L290.30,150.90 L291.30,150.87 L292.30,150.84 L293.30,150.81 L294.30,150.79 L295.30,150.77 L296.30,150.75 L297.30,150.74 L298.30,150.73 L299.30,150.72 L300.30,150.71 L301.30,150.71 L302.30,150.71 L303.30,150.71 L304.30,150.72 L305.30,150.72 L306.30,150.73 L307.30,150.75 L308.30,150.76 L309.30,150.78 L310.30,150.80 L311.30,150.82 L312.30,150.84 L313.30,150.87 L314.30,150.90 L315.30,150.93 L316.30,150.96 L317.30,150.99 L318.30,151.03 L319.30,151.07 L320.30,151.11 L321.30,151.15 L322.30,151.19 L323.30,151.24 L324.30,151.28 L325.30,151.33 L326.30,151.38 L327.30,151.43 L328.30,151.48 L329.30,151.53 L330.30,151.59 L331.30,151.64 L332.30,151.70 L333.30,151.76 L334.30,151.82 L335.30,151.88 L336.30,151.94 L337.30,152.00 L338.30,152.06 L339.30,152.12 L340.30,152.19 L341.30,152.25 L342.30,152.32 L343.30,152.38 L344.30,152.45 L345.30,152.52 L346.30,152.58 L347.30,152.65 L348.30,152.72 L349.30,152.79 L350.30,152.85 L351.30,152.92 L352.30,152.99 L353.30,153.06 L354.30,153.13 L355.30,153.19 L356.30,153.26 L357.30,153.33 L358.30,153.40 L359.30,153.47 L360.30,153.54 L361.30,153.61 L362.30,153.68 L363.30,153.75 L364.30,153.81 L365.30,153.88 L366.30,153.95 L367.30,154.02 L368.30,154.09 L369.30,154.16 L370.30,154.23 L371.30,154.30 L372.30,154.37 L373.30,154.43 L374.30,154.50 L375.30,154.57 L376.30,154.64 L377.30,154.71 L378.30,154.78 L379.30,154.85 L380.30,154.91 L381.30,154.98 L382.30,155.05 L383.30,155.12 L384.30,155.19 L385.30,155.25 L386.30,155.32 L387.30,155.39 L388.30,155.46 L389.30,155.52 L390.30,155.59 L391.30,155.66 L392.30,155.73 L393.30,155.79 L394.30,155.86 L395.30,155.92 L396.30,155.99 L397.30,156.06 L398.30,156.12 L399.30,156.19 L400.30,156.25 L401.30,156.32 L402.30,156.38 L403.30,156.45 L404.30,156.51 L405.30,156.58 L406.30,156.64 L407.30,156.70 L408.30,156.77 L409.30,156.83 L410.30,156.89 L411.30,156.95 L412.30,157.02 L413.30,157.08 L414.30,157.14 L415.30,157.20 L416.30,157.26 L417.30,157.32 L418.30,157.38 L419.30,157.44 L420.30,157.50 L421.30,157.56 L422.30,157.62 L423.30,157.68 L424.30,157.74 L425.30,157.80 L426.30,157.85 L427.30,157.91 L428.30,157.97 L429.30,158.02 L430.30,158.08 L431.30,158.13 L432.30,158.19 L433.30,158.24 L434.30,158.30 L435.30,158.35 L436.30,158.41 L437.30,158.46 L438.30,158.51 L439.30,158.56 L440.30,158.61 L441.30,158.66 L442.30,158.72 L443.30,158.77 L444.30,158.81 L445.30,158.86 L446.30,158.91 L447.30,158.96 L448.30,159.01 L449.30,159.05 L450.30,159.10 L451.30,159.15 L452.30,159.19 L453.30,159.24 L454.30,159.28 L455.30,159.32 L456.30,159.37 L457.30,159.41 L458.30,159.45 L459.30,159.49 L460.30,159.53 L461.30,159.57 L462.30,159.61 L463.30,159.65 L464.30,159.69 L465.30,159.73 L466.30,159.76 L467.30,159.80 L468.30,159.83 L469.30,159.87 L470.30,159.90 L471.30,159.94 L472.30,159.97 L473.30,160.00 L474.30,160.03 L475.30,160.06 L476.30,160.09 L477.30,160.12 L478.30,160.15 L479.30,160.18 L480.30,160.21 L481.30,160.23 L482.30,160.26 L483.30,160.28 L484.30,160.31 L485.30,160.33 L486.30,160.35 L487.30,160.38 L488.30,160.40 L489.30,160.42 L490.00,160.43" stroke="#00bfbf" />
<path d="M69.30,348.34 L70.30,346.83 L71.30,345.31 L72.30,343.79 L73.30,342.26 L74.30,340.73 L75.30,339.20 L76.30,337.66 L77.30,336.12 L78.30,334.58 L79.30,333.03 L80.30,331.48 L81.30,329.93 L82.30,328.38 L83.30,326.82 L84.30,325.26 L85.30,323.71 L86.30,322.15 L87.30,320.59 L88.30,319.02 L89.30,317.46 L90.30,315.90 L91.30,314.34 L92.30,312.78 L93.30,311.22 L94.30,309.67 L95.30,308.11 L96.30,306.55 L97.30,305.00 L98.30,303.45 L99.30,301.90 L100.30,300.36 L101.30,298.81 L102.30,297.27 L103.30,295.74 L104.30,294.21 L105.30,292.68 L106.30,291.16 L107.30,289.64 L108.30,288.12 L109.30,286.61 L110.30,285.11 L111.30,283.61 L112.30,282.12 L113.30,280.64 L114.30,279.16 L115.30,277.69 L116.30,276.22 L117.30,274.76 L118.30,273.31 L119.30,271.87 L120.30,270.44 L121.30,269.01 L122.30,267.59 L123.30,266.19 L124.30,264.79 L125.30,263.40 L126.30,262.02 L127.30,260.65 L128.30,259.29 L129.30,257.93 L130.30,256.59 L131.30,255.26 L132.30,253.93 L133.30,252.61 L134.30,251.31 L135.30,250.01 L136.30,248.72 L137.30,247.44 L138.30,246.16 L139.30,244.90 L140.30,243.64 L141.30,242.40 L142.30,241.16 L143.30,239.93 L144.30,238.71 L145.30,237.49 L146.30,236.29 L147.30,235.09 L148.30,233.90 L149.30,232.72 L150.30,231.55 L151.30,230.38 L152.30,229.23 L153.30,228.08 L154.30,226.93 L155.30,225.80 L156.30,224.67 L157.30,223.56 L158.30,222.45 L159.30,221.34 L160.30,220.25 L161.30,219.17 L162.30,218.09 L163.30,217.02 L164.30,215.97 L165.30,214.92 L166.30,213.88 L167.30,212.85 L168.30,211.83 L169.30,210.81 L170.30,209.81 L171.30,208.82 L172.30,207.84 L173.30,206.87 L174.30,205.90 L175.30,204.95 L176.30,204.01 L177.30,203.08 L178.30,202.16 L179.30,201.26 L180.30,200.36 L181.30,199.47 L182.30,198.60 L183.30,197.73 L184.30,196.88 L185.30,196.04 L186.30,195.20 L187.30,194.38 L188.30,193.57 L189.30,192.77 L190.30,191.98 L191.30,191.20 L192.30,190.43 L193.30,189.67 L194.30,188.92 L195.30,188.18 L196.30,187.46 L197.30,186.74 L198.30,186.03 L199.30,185.33 L200.30,184.64 L201.30,183.96 L202.30,183.29 L203.30,182.62 L204.30,181.97 L205.30,181.33 L206.30,180.69 L207.30,180.07 L208.30,179.45 L209.30,178.85 L210.30,178.25 L211.30,177.66 L212.30,177.08 L213.30,176.51 L214.30,175.94 L215.30,175.39 L216.30,174.84 L217.30,174.30 L218.30,173.77 L219.30,173.25 L220.30,172.74 L221.30,172.23 L222.30,171.74 L223.30,171.25 L224.30,170.77 L225.30,170.29 L226.30,169.83 L227.30,169.37 L228.30,168.91 L229.30,168.47 L230.30,168.03 L231.30,167.61 L232.30,167.18 L233.30,166.77 L234.30,166.36 L235.30,165.96 L236.30,165.56 L237.30,165.18 L238.30,164.80 L239.30,164.42 L240.30,164.06 L241.30,163.69 L242.30,163.34 L243.30,162.99 L244.30,162.65 L245.30,162.31 L246.30,161.99 L247.30,161.66 L248.30,161.34 L249.30,161.03 L250.30,160.73 L251.30,160.43 L252.30,160.13 L253.30,159.84 L254.30,159.56 L255.30,159.28 L256.30,159.01 L257.30,158.74 L258.30,158.48 L259.30,158.22 L260.30,157.97 L261.30,157.72 L262.30,157.48 L263.30,157.25 L264.30,157.01 L265.30,156.79 L266.30,156.56 L267.30,156.34 L268.30,156.13 L269.30,155.92 L270.30,155.72 L271.30,155.51 L272.30,155.32 L273.30,155.13 L274.30,154.94 L275.30,154.76 L276.30,154.58 L277.30,154.40 L278.30,154.23 L279.30,154.07 L280.30,153.90 L281.30,153.75 L282.30,153.59 L283.30,153.44 L284.30,153.30 L285.30,153.15 L286.30,153.02 L287.30,152.88 L288.30,152.75 L289.30,152.62 L290.30,152.50 L291.30,152.38 L292.30,152.26 L293.30,152.15 L294.30,152.04 L295.30,151.94 L296.30,151.84 L297.30,151.74 L298.30,151.64 L299.30,151.55 L300.30,151.46 L301.30,151.38 L302.30,151.30 L303.30,151.22 L304.30,151.14 L305.30,151.07 L306.30,151.00 L307.30,150.94 L308.30,150.88 L309.30,150.82 L310.30,150.76 L311.30,150.70 L312.30,150.65 L313.30,150.61 L314.30,150.56 L315.30,150.52 L316.30,150.48 L317.30,150.44 L318.30,150.41 L319.30,150.37 L320.30,150.35 L321.30,150.32 L322.30,150.29 L323.30,150.27 L324.30,150.25 L325.30,150.24 L326.30,150.22 L327.30,150.21 L328.30,150.20 L329.30,150.19 L330.30,150.19 L331.30,150.18 L332.30,150.18 L333.30,150.18 L334.30,150.19 L335.30,150.19 L336.30,150.20 L337.30,150.21 L338.30,150.22 L339.30,150.23 L340.30,150.24 L341.30,150.26 L342.30,150.28 L343.30,150.30 L344.30,150.32 L345.30,150.34 L346.30,150.37 L347.30,150.39 L348.30,150.42 L349.30,150.45 L350.30,150.48 L351.30,150.51 L352.30,150.54 L353.30,150.58 L354.30,150.61 L355.30,150.65 L356.30,150.69 L357.30,150.73 L358.30,150.77 L359.30,150.81 L360.30,150.85 L361.30,150.90 L362.30,150.94 L363.30,150.99 L364.30,151.03 L365.30,151.08 L366.30,151.13 L367.30,151.18 L368.30,151.23 L369.30,151.28 L370.30,151.33 L371.30,151.38 L372.30,151.43 L373.30,151.49 L374.30,151.54 L375.30,151.60 L376.30,151.65 L377.30,151.70 L378.30,151.76 L379.30,151.82 L380.30,151.87 L381.30,151.93 L382.30,151.99 L383.30,152.04 L384.30,152.10 L385.30,152.16 L386.30,152.22 L387.30,152.28 L388.30,152.34 L389.30,152.40 L390.30,152.46 L391.30,152.52 L392.30,152.58 L393.30,152.64 L394.30,152.71 L395.30,152.77 L396.30,152.83 L397.30,152.89 L398.30,152.96 L399.30,153.02 L400.30,153.08 L401.30,153.15 L402.30,153.21 L403.30,153.28 L404.30,153.34 L405.30,153.41 L406.30,153.47 L407.30,153.54 L408.30,153.60 L409.30,153.67 L410.30,153.73 L411.30,153.80 L412.30,153.86 L413.30,153.93 L414.30,154.00 L415.30,154.06 L416.30,154.13 L417.30,154.20 L418.30,154.26 L419.30,154.33 L420.30,154.40 L421.30,154.46 L422.30,154.53 L423.30,154.60 L424.30,154.67 L425.30,154.73 L426.30,154.80 L427.30,154.87 L428.30,154.93 L429.30,155.00 L430.30,155.07 L431.30,155.13 L432.30,155.20 L433.30,155.27 L434.30,155.33 L435.30,155.40 L436.30,155.47 L437.30,155.53 L438.30,155.60 L439.30,155.67 L440.30,155.73 L441.30,155.80 L442.30,155.86 L443.30,155.93 L444.30,155.99 L445.30,156.06 L446.30,156.12 L447.30,156.19 L448.30,156.25 L449.30,156.32 L450.30,156.38 L451.30,156.45 L452.30,156.51 L453.30,156.57 L454.30,156.63 L455.30,156.70 L456.30,156.76 L457.30,156.82 L458.30,156.88 L459.30,156.94 L460.30,157.01 L461.30,157.07 L462.30,157.13 L463.30,157.19 L464.30,157.25 L465.30,157.31 L466.30,157.36 L467.30,157.42 L468.30,157.48 L469.30,157.54 L470.30,157.59 L471.30,157.65 L472.30,157.71 L473.30,157.76 L474.30,157.82 L475.30,157.87 L476.30,157.93 L477.30,157.98 L478.30,158.03 L479.30,158.09 L480.30,158.14 L481.30,158.19 L482.30,158.24 L483.30,158.29 L484.30,158.34 L485.30,158.39 L486.30,158.44 L487.30,158.49 L488.30,158.53 L489.30,158.58 L490.30,158.62 L491.30,158.67 L492.30,158.71 L493.30,158.76 L494.30,158.80 L495.30,158.84 L496.30,158.89 L497.30,158.93 L498.30,158.97 L499.30,159.01 L500.30,159.05 L501.30,159.08 L502.30,159.12 L503.30,159.16 L504.30,159.19 L505.30,159.23 L506.30,159.26 L507.30,159.30 L508.30,159.33 L509.30,159.36 L510.30,159.39 L511.30,159.42 L512.30,159.45 L513.30,159.48 L514.30,159.51 L515.30,159.53 L516.30,159.56 L517.30,159.58 L518.30,159.61 L519.30,159.63 L520.30,159.65 L521.30,159.67 L522.30,159.69 L523.30,159.71 L524.30,159.73 L525.30,159.74 L526.30,159.76 L527.30,159.78 L528.30,159.79 L529.30,159.80 L530.30,159.81 L531.30,159.82 L532.30,159.83 L533.30,159.84 L534.30,159.85 L535.30,159.86 L536.30,159.86 L537.30,159.86 L538.30,159.87 L539.30,159.87 L539.60,159.87" stroke="#0000ff" />
</g>
<path d="M68.85,469.3 L68.85,7.0 M68.05,7.0 L681.6999999999999,7.0 M680.9,7.0 L680.9,469.3 M68.05,469.3 L681.6999999999999,469.3" stroke="#303030" stroke-width="1.6" fill="none"/>
<path d="M68.90,469.3 L68.90,476.90000000000003 M130.10,469.3 L130.10,476.90000000000003 M191.30,469.3 L191.30,476.90000000000003 M252.50,469.3 L252.50,476.90000000000003 M313.70,469.3 L313.70,476.90000000000003 M374.90,469.3 L374.90,476.90000000000003 M436.10,469.3 L436.10,476.90000000000003 M497.30,469.3 L497.30,476.90000000000003 M558.50,469.3 L558.50,476.90000000000003 M619.70,469.3 L619.70,476.90000000000003 M680.90,469.3 L680.90,476.90000000000003 M99.50,469.3 L99.50,472.90000000000003 M160.70,469.3 L160.70,472.90000000000003 M221.90,469.3 L221.90,472.90000000000003 M283.10,469.3 L283.10,472.90000000000003 M344.30,469.3 L344.30,472.90000000000003 M405.50,469.3 L405.50,472.90000000000003 M466.70,469.3 L466.70,472.90000000000003 M527.90,469.3 L527.90,472.90000000000003 M589.10,469.3 L589.10,472.90000000000003 M650.30,469.3 L650.30,472.90000000000003 M68.85,7.00 L60.24999999999999,7.00 M68.85,58.36 L60.24999999999999,58.36 M68.85,109.72 L60.24999999999999,109.72 M68.85,161.08 L60.24999999999999,161.08 M68.85,212.44 L60.24999999999999,212.44 M68.85,263.80 L60.24999999999999,263.80 M68.85,315.16 L60.24999999999999,315.16 M68.85,366.52 L60.24999999999999,366.52 M68.85,417.88 L60.24999999999999,417.88 M68.85,469.24 L60.24999999999999,469.24 M68.85,32.68 L65.25,32.68 M68.85,84.04 L65.25,84.04 M68.85,135.40 L65.25,135.40 M68.85,186.76 L65.25,186.76 M68.85,238.12 L65.25,238.12 M68.85,289.48 L65.25,289.48 M68.85,340.84 L65.25,340.84 M68.85,392.20 L65.25,392.20 M68.85,443.56 L65.25,443.56" stroke="#303030" stroke-width="1.6" fill="none"/>
<g class="tk">
<text transform="translate(69.10,494.2) scale(1.07,1)" text-anchor="middle">0</text>
<text transform="translate(130.30,494.2) scale(1.07,1)" text-anchor="middle">0.1</text>
<text transform="translate(191.50,494.2) scale(1.07,1)" text-anchor="middle">0.2</text>
<text transform="translate(252.70,494.2) scale(1.07,1)" text-anchor="middle">0.3</text>
<text transform="translate(313.90,494.2) scale(1.07,1)" text-anchor="middle">0.4</text>
<text transform="translate(375.10,494.2) scale(1.07,1)" text-anchor="middle">0.5</text>
<text transform="translate(436.30,494.2) scale(1.07,1)" text-anchor="middle">0.6</text>
<text transform="translate(497.50,494.2) scale(1.07,1)" text-anchor="middle">0.7</text>
<text transform="translate(558.70,494.2) scale(1.07,1)" text-anchor="middle">0.8</text>
<text transform="translate(619.90,494.2) scale(1.07,1)" text-anchor="middle">0.9</text>
<text transform="translate(681.10,494.2) scale(1.07,1)" text-anchor="middle">1</text>
<text transform="translate(55.6,11.90) scale(1.07,1)" text-anchor="end">0.6</text>
<text transform="translate(55.6,63.26) scale(1.07,1)" text-anchor="end">0.4</text>
<text transform="translate(55.6,114.62) scale(1.07,1)" text-anchor="end">0.2</text>
<text transform="translate(55.6,165.98) scale(1.07,1)" text-anchor="end">0</text>
<text transform="translate(55.6,217.34) scale(1.07,1)" text-anchor="end">-0.2</text>
<text transform="translate(55.6,268.70) scale(1.07,1)" text-anchor="end">-0.4</text>
<text transform="translate(55.6,320.06) scale(1.07,1)" text-anchor="end">-0.6</text>
<text transform="translate(55.6,371.42) scale(1.07,1)" text-anchor="end">-0.8</text>
<text transform="translate(55.6,422.78) scale(1.07,1)" text-anchor="end">-1</text>
<text transform="translate(55.6,474.14) scale(1.07,1)" text-anchor="end">-1.2</text>
</g>
<g>
<path d="M437.0,311.10 L498.0,311.10" stroke="#0000ff" stroke-width="1.6"/>
<text class="lg it" style="font-size:14.0px" transform="translate(510.88,312.90) scale(1.119,1)">R</text>
<text class="lg" transform="translate(523.08,312.90) scale(1.370,1)">=</text>
<text class="lg" transform="translate(538.95,312.90) scale(1.000,1)">1</text>
<text class="lg" transform="translate(545.06,312.90) scale(1.100,1)">;</text>
<text class="lg it" style="font-size:14.0px" transform="translate(551.17,312.90) scale(1.022,1)">N</text>
<text class="lg" transform="translate(564.79,312.90) scale(1.354,1)">=</text>
<text class="lg" transform="translate(579.83,312.90) scale(1.001,1)">40</text>
<text class="lg" transform="translate(593.43,312.90) scale(1.000,1)">;</text>
<text class="lg it" style="font-size:14.0px" transform="translate(598.04,312.90) scale(1.093,1)">c</text>
<text class="lg" transform="translate(607.68,312.90) scale(1.370,1)">=</text>
<text class="lg" transform="translate(621.98,312.90) scale(1.146,1)">0</text>
<path d="M438.8,328.18 L440.3,328.18 M446,328.18 L454.7,328.18 M460.6,328.18 L462.1,328.18 M468,328.18 L476.5,328.18 M482.3,328.18 L483.8,328.18 M489.2,328.18 L497.9,328.18" stroke="#008000" stroke-width="1.6"/>
<text class="lg it" style="font-size:14.0px" transform="translate(510.88,330.27) scale(1.119,1)">R</text>
<text class="lg" transform="translate(523.08,330.27) scale(1.370,1)">=</text>
<text class="lg" transform="translate(538.95,330.27) scale(1.000,1)">1</text>
<text class="lg" transform="translate(545.06,330.27) scale(1.100,1)">;</text>
<text class="lg it" style="font-size:14.0px" transform="translate(551.17,330.27) scale(1.022,1)">N</text>
<text class="lg" transform="translate(564.79,330.27) scale(1.354,1)">=</text>
<text class="lg" transform="translate(579.83,330.27) scale(1.001,1)">40</text>
<text class="lg" transform="translate(593.43,330.27) scale(1.000,1)">;</text>
<text class="lg it" style="font-size:14.0px" transform="translate(598.04,330.27) scale(1.093,1)">c</text>
<text class="lg" transform="translate(607.68,330.27) scale(1.370,1)">=</text>
<text class="lg" transform="translate(622.05,330.27) scale(1.014,1)">0.125</text>
<path d="M436.3,345.25 L450.9,345.25 M458.1,345.25 L472.1,345.25 M479.3,345.25 L493.6,345.25" stroke="#ff0000" stroke-width="1.6"/>
<text class="lg it" style="font-size:14.0px" transform="translate(510.88,347.65) scale(1.119,1)">R</text>
<text class="lg" transform="translate(523.08,347.65) scale(1.370,1)">=</text>
<text class="lg" transform="translate(538.95,347.65) scale(1.000,1)">1</text>
<text class="lg" transform="translate(545.06,347.65) scale(1.100,1)">;</text>
<text class="lg it" style="font-size:14.0px" transform="translate(551.17,347.65) scale(1.022,1)">N</text>
<text class="lg" transform="translate(564.79,347.65) scale(1.354,1)">=</text>
<text class="lg" transform="translate(579.83,347.65) scale(1.001,1)">40</text>
<text class="lg" transform="translate(593.43,347.65) scale(1.000,1)">;</text>
<text class="lg it" style="font-size:14.0px" transform="translate(598.04,347.65) scale(1.093,1)">c</text>
<text class="lg" transform="translate(607.68,347.65) scale(1.370,1)">=</text>
<text class="lg" transform="translate(623.15,347.65) scale(1.115,1)">−</text>
<text class="lg" transform="translate(631.35,347.65) scale(1.014,1)">0.125</text>
<path d="M437.0,362.33 L498.0,362.33" stroke="#00bfbf" stroke-width="1.6"/>
<text class="lg it" style="font-size:14.0px" transform="translate(510.88,365.02) scale(1.119,1)">R</text>
<text class="lg" transform="translate(523.08,365.02) scale(1.370,1)">=</text>
<text class="lg" transform="translate(538.95,365.02) scale(1.000,1)">3</text>
<text class="lg" transform="translate(545.06,365.02) scale(1.100,1)">;</text>
<text class="lg it" style="font-size:14.0px" transform="translate(551.17,365.02) scale(1.022,1)">N</text>
<text class="lg" transform="translate(564.79,365.02) scale(1.354,1)">=</text>
<text class="lg" transform="translate(579.83,365.02) scale(1.001,1)">50</text>
<text class="lg" transform="translate(593.43,365.02) scale(1.000,1)">;</text>
<text class="lg it" style="font-size:14.0px" transform="translate(598.04,365.02) scale(1.093,1)">c</text>
<text class="lg" transform="translate(607.68,365.02) scale(1.370,1)">=</text>
<text class="lg" transform="translate(621.98,365.02) scale(1.146,1)">0</text>
<path d="M438.8,379.40 L440.3,379.40 M446,379.40 L454.7,379.40 M460.6,379.40 L462.1,379.40 M468,379.40 L476.5,379.40 M482.3,379.40 L483.8,379.40 M489.2,379.40 L497.9,379.40" stroke="#bf00bf" stroke-width="1.6"/>
<text class="lg it" style="font-size:14.0px" transform="translate(510.88,382.40) scale(1.119,1)">R</text>
<text class="lg" transform="translate(523.08,382.40) scale(1.370,1)">=</text>
<text class="lg" transform="translate(538.95,382.40) scale(1.000,1)">3</text>
<text class="lg" transform="translate(545.06,382.40) scale(1.100,1)">;</text>
<text class="lg it" style="font-size:14.0px" transform="translate(551.17,382.40) scale(1.022,1)">N</text>
<text class="lg" transform="translate(564.79,382.40) scale(1.354,1)">=</text>
<text class="lg" transform="translate(579.83,382.40) scale(1.001,1)">50</text>
<text class="lg" transform="translate(593.43,382.40) scale(1.000,1)">;</text>
<text class="lg it" style="font-size:14.0px" transform="translate(598.04,382.40) scale(1.093,1)">c</text>
<text class="lg" transform="translate(607.68,382.40) scale(1.370,1)">=</text>
<text class="lg" transform="translate(622.05,382.40) scale(1.014,1)">0.125</text>
<path d="M436.3,396.48 L450.9,396.48 M458.1,396.48 L472.1,396.48 M479.3,396.48 L493.6,396.48" stroke="#bfbf00" stroke-width="1.6"/>
<text class="lg it" style="font-size:14.0px" transform="translate(510.88,399.77) scale(1.119,1)">R</text>
<text class="lg" transform="translate(523.08,399.77) scale(1.370,1)">=</text>
<text class="lg" transform="translate(538.95,399.77) scale(1.000,1)">3</text>
<text class="lg" transform="translate(545.06,399.77) scale(1.100,1)">;</text>
<text class="lg it" style="font-size:14.0px" transform="translate(551.17,399.77) scale(1.022,1)">N</text>
<text class="lg" transform="translate(564.79,399.77) scale(1.354,1)">=</text>
<text class="lg" transform="translate(579.83,399.77) scale(1.001,1)">50</text>
<text class="lg" transform="translate(593.43,399.77) scale(1.000,1)">;</text>
<text class="lg it" style="font-size:14.0px" transform="translate(598.04,399.77) scale(1.093,1)">c</text>
<text class="lg" transform="translate(607.68,399.77) scale(1.370,1)">=</text>
<text class="lg" transform="translate(623.15,399.77) scale(1.115,1)">−</text>
<text class="lg" transform="translate(631.35,399.77) scale(1.014,1)">0.125</text>
<path d="M437.0,413.55 L498.0,413.55" stroke="#404040" stroke-width="1.6"/>
<text class="lg it" style="font-size:14.0px" transform="translate(510.88,417.15) scale(1.119,1)">R</text>
<text class="lg" transform="translate(523.08,417.15) scale(1.370,1)">=</text>
<text class="lg" transform="translate(538.95,417.15) scale(1.000,1)">5</text>
<text class="lg" transform="translate(545.06,417.15) scale(1.100,1)">;</text>
<text class="lg it" style="font-size:14.0px" transform="translate(551.17,417.15) scale(1.022,1)">N</text>
<text class="lg" transform="translate(564.79,417.15) scale(1.354,1)">=</text>
<text class="lg" transform="translate(579.83,417.15) scale(1.001,1)">60</text>
<text class="lg" transform="translate(593.43,417.15) scale(1.000,1)">;</text>
<text class="lg it" style="font-size:14.0px" transform="translate(598.04,417.15) scale(1.093,1)">c</text>
<text class="lg" transform="translate(607.68,417.15) scale(1.370,1)">=</text>
<text class="lg" transform="translate(621.98,417.15) scale(1.146,1)">0</text>
<path d="M438.8,430.62 L440.3,430.62 M446,430.62 L454.7,430.62 M460.6,430.62 L462.1,430.62 M468,430.62 L476.5,430.62 M482.3,430.62 L483.8,430.62 M489.2,430.62 L497.9,430.62" stroke="#0000ff" stroke-width="1.6"/>
<text class="lg it" style="font-size:14.0px" transform="translate(510.88,434.52) scale(1.119,1)">R</text>
<text class="lg" transform="translate(523.08,434.52) scale(1.370,1)">=</text>
<text class="lg" transform="translate(538.95,434.52) scale(1.000,1)">5</text>
<text class="lg" transform="translate(545.06,434.52) scale(1.100,1)">;</text>
<text class="lg it" style="font-size:14.0px" transform="translate(551.17,434.52) scale(1.022,1)">N</text>
<text class="lg" transform="translate(564.79,434.52) scale(1.354,1)">=</text>
<text class="lg" transform="translate(579.83,434.52) scale(1.001,1)">60</text>
<text class="lg" transform="translate(593.43,434.52) scale(1.000,1)">;</text>
<text class="lg it" style="font-size:14.0px" transform="translate(598.04,434.52) scale(1.093,1)">c</text>
<text class="lg" transform="translate(607.68,434.52) scale(1.370,1)">=</text>
<text class="lg" transform="translate(622.05,434.52) scale(1.014,1)">0.125</text>
<path d="M436.3,447.70 L450.9,447.70 M458.1,447.70 L472.1,447.70 M479.3,447.70 L493.6,447.70" stroke="#008000" stroke-width="1.6"/>
<text class="lg it" style="font-size:14.0px" transform="translate(510.88,451.90) scale(1.119,1)">R</text>
<text class="lg" transform="translate(523.08,451.90) scale(1.370,1)">=</text>
<text class="lg" transform="translate(538.95,451.90) scale(1.000,1)">5</text>
<text class="lg" transform="translate(545.06,451.90) scale(1.100,1)">;</text>
<text class="lg it" style="font-size:14.0px" transform="translate(551.17,451.90) scale(1.022,1)">N</text>
<text class="lg" transform="translate(564.79,451.90) scale(1.354,1)">=</text>
<text class="lg" transform="translate(579.83,451.90) scale(1.001,1)">60</text>
<text class="lg" transform="translate(593.43,451.90) scale(1.000,1)">;</text>
<text class="lg it" style="font-size:14.0px" transform="translate(598.04,451.90) scale(1.093,1)">c</text>
<text class="lg" transform="translate(607.68,451.90) scale(1.370,1)">=</text>
<text class="lg" transform="translate(623.15,451.90) scale(1.115,1)">−</text>
<text class="lg" transform="translate(631.35,451.90) scale(1.014,1)">0.125</text>
</g>
<text class="ttl" x="0" y="0" text-anchor="middle" font-size="23.5" transform="translate(374.7,531.6) scale(0.9,1)">x</text>
<text class="ttl" x="0" y="0" text-anchor="middle" font-size="23.5" transform="translate(15.9,237.5) rotate(-90)">y</text>
</g>
</svg>
</body></html>
